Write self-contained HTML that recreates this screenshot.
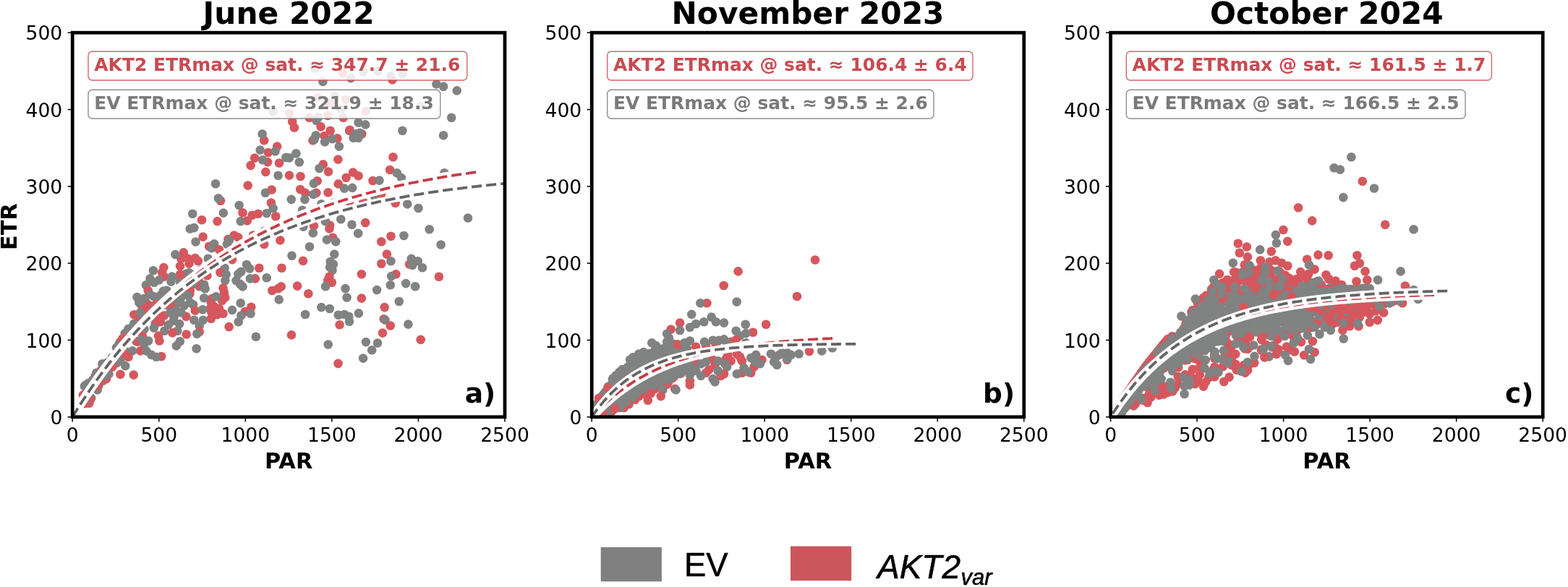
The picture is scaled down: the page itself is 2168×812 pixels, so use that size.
<!DOCTYPE html>
<html lang="en"><head><meta charset="utf-8"><title>ETR vs PAR</title>
<style>html,body{margin:0;padding:0;background:#fff}svg{display:block}.t{font-family:"DejaVu Sans","Liberation Sans",sans-serif;font-size:26.6px;fill:#000}.b{font-family:"DejaVu Sans","Liberation Sans",sans-serif;font-weight:bold;fill:#000}.l{font-family:"Liberation Sans",Arial,sans-serif;fill:#000}</style></head><body>
<svg width="2168" height="812" viewBox="0 0 2168 812">
<rect width="2168" height="812" fill="#fff"/>
<defs><circle id="pg" r="6.3" fill="#818282"/><circle id="pr" r="6.3" fill="#d6575d"/></defs>
<g id="panel-a">
<clipPath id="clipa"><rect x="100.2" y="45.2" width="597.8" height="531.6"/></clipPath>
<g clip-path="url(#clipa)">
<use href="#pg" x="168.8" y="492.6"/>
<use href="#pr" x="122.6" y="530.9"/>
<use href="#pg" x="175.8" y="487.6"/>
<use href="#pg" x="150.5" y="517.4"/>
<use href="#pg" x="126.2" y="550.4"/>
<use href="#pr" x="124.4" y="536.9"/>
<use href="#pr" x="220.1" y="424.0"/>
<use href="#pr" x="211.1" y="438.8"/>
<use href="#pg" x="122.3" y="530.0"/>
<use href="#pg" x="184.7" y="461.1"/>
<use href="#pr" x="166.2" y="473.0"/>
<use href="#pr" x="131.8" y="526.1"/>
<use href="#pr" x="176.9" y="469.6"/>
<use href="#pg" x="209.0" y="433.3"/>
<use href="#pg" x="228.4" y="421.7"/>
<use href="#pg" x="192.5" y="439.7"/>
<use href="#pg" x="164.7" y="475.5"/>
<use href="#pg" x="245.1" y="419.3"/>
<use href="#pg" x="202.5" y="431.1"/>
<use href="#pr" x="189.7" y="453.4"/>
<use href="#pg" x="134.3" y="527.8"/>
<use href="#pr" x="140.0" y="517.6"/>
<use href="#pg" x="275.6" y="396.2"/>
<use href="#pg" x="210.5" y="423.2"/>
<use href="#pg" x="171.5" y="482.6"/>
<use href="#pr" x="211.6" y="436.3"/>
<use href="#pg" x="272.7" y="384.8"/>
<use href="#pg" x="125.4" y="529.8"/>
<use href="#pg" x="222.9" y="407.5"/>
<use href="#pg" x="162.2" y="492.5"/>
<use href="#pg" x="172.6" y="461.1"/>
<use href="#pr" x="142.7" y="526.6"/>
<use href="#pg" x="151.1" y="509.8"/>
<use href="#pg" x="156.0" y="500.0"/>
<use href="#pg" x="128.0" y="535.6"/>
<use href="#pg" x="161.1" y="502.3"/>
<use href="#pg" x="259.2" y="401.4"/>
<use href="#pg" x="279.7" y="372.7"/>
<use href="#pr" x="274.9" y="394.2"/>
<use href="#pr" x="139.9" y="512.0"/>
<use href="#pg" x="195.7" y="447.7"/>
<use href="#pg" x="161.7" y="501.2"/>
<use href="#pr" x="176.4" y="469.6"/>
<use href="#pg" x="230.1" y="417.2"/>
<use href="#pg" x="224.2" y="414.9"/>
<use href="#pg" x="265.1" y="379.9"/>
<use href="#pg" x="248.1" y="406.3"/>
<use href="#pg" x="180.5" y="467.8"/>
<use href="#pr" x="125.0" y="553.1"/>
<use href="#pg" x="188.3" y="471.9"/>
<use href="#pr" x="123.3" y="557.7"/>
<use href="#pg" x="204.4" y="426.7"/>
<use href="#pg" x="118.8" y="534.8"/>
<use href="#pg" x="177.5" y="465.9"/>
<use href="#pr" x="215.4" y="432.1"/>
<use href="#pg" x="256.6" y="379.1"/>
<use href="#pr" x="195.0" y="457.9"/>
<use href="#pg" x="131.7" y="534.1"/>
<use href="#pg" x="194.7" y="445.3"/>
<use href="#pg" x="118.4" y="532.8"/>
<use href="#pr" x="175.1" y="466.8"/>
<use href="#pg" x="241.4" y="414.9"/>
<use href="#pg" x="259.1" y="387.3"/>
<use href="#pg" x="201.3" y="431.1"/>
<use href="#pg" x="243.8" y="405.0"/>
<use href="#pr" x="169.7" y="489.0"/>
<use href="#pg" x="249.5" y="390.7"/>
<use href="#pg" x="249.0" y="412.1"/>
<use href="#pr" x="174.1" y="490.5"/>
<use href="#pr" x="246.8" y="404.6"/>
<use href="#pg" x="230.5" y="401.9"/>
<use href="#pg" x="249.9" y="393.6"/>
<use href="#pr" x="274.4" y="387.2"/>
<use href="#pg" x="131.6" y="529.8"/>
<use href="#pg" x="148.8" y="501.3"/>
<use href="#pg" x="255.2" y="397.6"/>
<use href="#pg" x="172.1" y="471.8"/>
<use href="#pg" x="134.6" y="528.4"/>
<use href="#pr" x="240.1" y="409.9"/>
<use href="#pr" x="187.2" y="455.2"/>
<use href="#pg" x="248.6" y="386.2"/>
<use href="#pr" x="192.1" y="446.3"/>
<use href="#pr" x="235.9" y="424.0"/>
<use href="#pg" x="119.2" y="543.9"/>
<use href="#pg" x="249.5" y="413.5"/>
<use href="#pg" x="278.6" y="374.3"/>
<use href="#pr" x="140.6" y="514.7"/>
<use href="#pg" x="116.9" y="534.3"/>
<use href="#pr" x="131.7" y="520.1"/>
<use href="#pr" x="187.2" y="447.2"/>
<use href="#pg" x="119.2" y="556.6"/>
<use href="#pg" x="154.8" y="494.8"/>
<use href="#pr" x="205.7" y="429.3"/>
<use href="#pg" x="266.9" y="393.1"/>
<use href="#pg" x="225.4" y="411.2"/>
<use href="#pg" x="185.0" y="448.0"/>
<use href="#pg" x="136.4" y="533.9"/>
<use href="#pr" x="117.7" y="551.2"/>
<use href="#pr" x="216.4" y="420.9"/>
<use href="#pg" x="143.4" y="513.5"/>
<use href="#pg" x="134.7" y="539.4"/>
<use href="#pr" x="201.3" y="443.1"/>
<use href="#pr" x="262.4" y="406.5"/>
<use href="#pg" x="160.9" y="480.9"/>
<use href="#pr" x="190.2" y="472.6"/>
<use href="#pg" x="188.7" y="454.3"/>
<use href="#pg" x="216.0" y="440.9"/>
<use href="#pg" x="190.3" y="455.4"/>
<use href="#pg" x="199.5" y="455.4"/>
<use href="#pg" x="261.3" y="377.2"/>
<use href="#pg" x="435.3" y="94.9"/>
<use href="#pr" x="474.0" y="101.1"/>
<use href="#pg" x="485.1" y="108.1"/>
<use href="#pg" x="502.4" y="99.8"/>
<use href="#pg" x="522.5" y="98.4"/>
<use href="#pg" x="540.5" y="105.3"/>
<use href="#pr" x="542.5" y="110.4"/>
<use href="#pg" x="556.4" y="101.8"/>
<use href="#pg" x="446.4" y="112.9"/>
<use href="#pg" x="603.4" y="116.4"/>
<use href="#pg" x="613.1" y="119.8"/>
<use href="#pg" x="631.8" y="125.4"/>
<use href="#pg" x="624.2" y="162.7"/>
<use href="#pr" x="439.4" y="135.0"/>
<use href="#pg" x="463.0" y="133.0"/>
<use href="#pr" x="478.2" y="137.8"/>
<use href="#pr" x="455.4" y="142.6"/>
<use href="#pg" x="471.3" y="151.0"/>
<use href="#pr" x="505.9" y="153.7"/>
<use href="#pg" x="581.3" y="147.5"/>
<use href="#pr" x="400.0" y="156.5"/>
<use href="#pr" x="427.7" y="162.7"/>
<use href="#pg" x="440.1" y="162.0"/>
<use href="#pr" x="453.3" y="159.9"/>
<use href="#pr" x="474.7" y="162.7"/>
<use href="#pr" x="404.2" y="168.2"/>
<use href="#pr" x="406.9" y="176.5"/>
<use href="#pg" x="437.4" y="166.9"/>
<use href="#pr" x="443.6" y="175.2"/>
<use href="#pr" x="456.7" y="180.7"/>
<use href="#pg" x="495.5" y="169.6"/>
<use href="#pg" x="505.2" y="172.4"/>
<use href="#pg" x="483.0" y="180.7"/>
<use href="#pg" x="556.4" y="180.7"/>
<use href="#pr" x="448.4" y="188.0"/>
<use href="#pr" x="466.4" y="191.4"/>
<use href="#pr" x="432.5" y="194.2"/>
<use href="#pg" x="436.7" y="187.3"/>
<use href="#pg" x="434.6" y="192.8"/>
<use href="#pg" x="449.1" y="196.3"/>
<use href="#pg" x="459.5" y="192.1"/>
<use href="#pg" x="468.9" y="202.5"/>
<use href="#pr" x="483.7" y="179.7"/>
<use href="#pr" x="500.3" y="185.2"/>
<use href="#pg" x="491.3" y="185.2"/>
<use href="#pg" x="497.6" y="183.8"/>
<use href="#pg" x="488.6" y="190.8"/>
<use href="#pg" x="495.5" y="190.8"/>
<use href="#pg" x="613.1" y="187.3"/>
<use href="#pg" x="409.4" y="212.2"/>
<use href="#pg" x="413.8" y="224.2"/>
<use href="#pg" x="400.0" y="218.4"/>
<use href="#pr" x="467.4" y="220.5"/>
<use href="#pr" x="543.5" y="217.3"/>
<use href="#pr" x="446.8" y="227.4"/>
<use href="#pg" x="441.5" y="233.0"/>
<use href="#pr" x="454.0" y="237.5"/>
<use href="#pr" x="415.5" y="244.0"/>
<use href="#pr" x="400.0" y="242.6"/>
<use href="#pr" x="539.1" y="235.0"/>
<use href="#pg" x="548.8" y="239.2"/>
<use href="#pg" x="555.0" y="246.1"/>
<use href="#pr" x="488.1" y="238.5"/>
<use href="#pr" x="495.5" y="243.3"/>
<use href="#pr" x="478.6" y="245.8"/>
<use href="#pr" x="515.5" y="250.0"/>
<use href="#pg" x="524.5" y="249.6"/>
<use href="#pg" x="614.5" y="239.2"/>
<use href="#pr" x="438.7" y="250.3"/>
<use href="#pg" x="433.9" y="253.7"/>
<use href="#pr" x="467.8" y="254.4"/>
<use href="#pg" x="476.1" y="260.6"/>
<use href="#pg" x="487.2" y="259.9"/>
<use href="#pr" x="415.2" y="262.0"/>
<use href="#pr" x="453.6" y="266.2"/>
<use href="#pr" x="422.1" y="266.9"/>
<use href="#pr" x="437.4" y="266.9"/>
<use href="#pg" x="433.2" y="268.9"/>
<use href="#pg" x="402.8" y="275.9"/>
<use href="#pg" x="421.4" y="275.9"/>
<use href="#pg" x="444.3" y="282.4"/>
<use href="#pr" x="460.9" y="280.7"/>
<use href="#pr" x="483.0" y="279.3"/>
<use href="#pr" x="502.4" y="279.3"/>
<use href="#pg" x="517.6" y="271.0"/>
<use href="#pr" x="527.3" y="268.2"/>
<use href="#pr" x="546.7" y="280.7"/>
<use href="#pg" x="563.3" y="282.4"/>
<use href="#pg" x="578.5" y="288.0"/>
<use href="#pg" x="418.0" y="290.8"/>
<use href="#pg" x="471.3" y="303.2"/>
<use href="#pr" x="433.9" y="312.2"/>
<use href="#pr" x="456.0" y="311.5"/>
<use href="#pr" x="455.4" y="316.4"/>
<use href="#pg" x="449.8" y="306.0"/>
<use href="#pg" x="419.4" y="313.6"/>
<use href="#pg" x="486.5" y="310.8"/>
<use href="#pr" x="505.2" y="308.1"/>
<use href="#pg" x="495.2" y="322.9"/>
<use href="#pg" x="432.8" y="322.3"/>
<use href="#pr" x="460.2" y="328.8"/>
<use href="#pg" x="451.9" y="331.6"/>
<use href="#pg" x="464.3" y="334.3"/>
<use href="#pg" x="428.0" y="341.3"/>
<use href="#pg" x="647.0" y="301.5"/>
<use href="#pg" x="593.7" y="317.3"/>
<use href="#pg" x="558.4" y="326.0"/>
<use href="#pg" x="609.6" y="338.5"/>
<use href="#pr" x="540.5" y="326.7"/>
<use href="#pr" x="527.3" y="334.3"/>
<use href="#pr" x="534.9" y="351.6"/>
<use href="#pr" x="527.3" y="364.8"/>
<use href="#pg" x="540.5" y="361.3"/>
<use href="#pg" x="462.3" y="351.6"/>
<use href="#pg" x="403.5" y="353.7"/>
<use href="#pr" x="419.0" y="360.9"/>
<use href="#pg" x="456.7" y="362.0"/>
<use href="#pg" x="460.9" y="365.5"/>
<use href="#pg" x="456.0" y="369.6"/>
<use href="#pg" x="459.5" y="373.8"/>
<use href="#pr" x="566.1" y="365.5"/>
<use href="#pg" x="568.8" y="357.9"/>
<use href="#pg" x="577.8" y="361.3"/>
<use href="#pg" x="570.2" y="366.9"/>
<use href="#pg" x="584.0" y="370.3"/>
<use href="#pr" x="499.9" y="379.3"/>
<use href="#pr" x="547.4" y="379.3"/>
<use href="#pg" x="541.1" y="382.1"/>
<use href="#pr" x="606.9" y="382.8"/>
<use href="#pr" x="455.4" y="382.8"/>
<use href="#pr" x="453.3" y="388.0"/>
<use href="#pr" x="458.8" y="390.8"/>
<use href="#pg" x="450.1" y="396.3"/>
<use href="#pr" x="411.1" y="395.6"/>
<use href="#pr" x="426.3" y="406.3"/>
<use href="#pg" x="477.5" y="399.1"/>
<use href="#pg" x="479.6" y="411.5"/>
<use href="#pr" x="499.9" y="412.6"/>
<use href="#pg" x="521.1" y="401.1"/>
<use href="#pg" x="539.8" y="394.2"/>
<use href="#pg" x="561.2" y="392.1"/>
<use href="#pg" x="574.1" y="396.3"/>
<use href="#pg" x="551.8" y="417.0"/>
<use href="#pr" x="531.7" y="425.1"/>
<use href="#pg" x="444.3" y="425.1"/>
<use href="#pg" x="455.8" y="427.0"/>
<use href="#pg" x="422.1" y="435.0"/>
<use href="#pg" x="467.8" y="435.7"/>
<use href="#pg" x="476.1" y="435.0"/>
<use href="#pg" x="482.3" y="437.8"/>
<use href="#pg" x="483.0" y="444.7"/>
<use href="#pg" x="495.9" y="433.4"/>
<use href="#pr" x="469.6" y="449.2"/>
<use href="#pr" x="530.8" y="441.3"/>
<use href="#pg" x="532.6" y="442.6"/>
<use href="#pr" x="539.8" y="450.5"/>
<use href="#pg" x="564.4" y="448.6"/>
<use href="#pr" x="529.0" y="460.6"/>
<use href="#pr" x="403.0" y="463.4"/>
<use href="#pr" x="581.7" y="469.9"/>
<use href="#pg" x="453.7" y="476.5"/>
<use href="#pg" x="505.9" y="473.1"/>
<use href="#pg" x="522.0" y="474.5"/>
<use href="#pg" x="514.2" y="484.2"/>
<use href="#pg" x="502.1" y="495.6"/>
<use href="#pr" x="467.5" y="502.9"/>
<use href="#pg" x="377.7" y="154.2"/>
<use href="#pr" x="365.2" y="194.3"/>
<use href="#pg" x="362.7" y="185.4"/>
<use href="#pr" x="383.2" y="202.6"/>
<use href="#pr" x="370.8" y="211.0"/>
<use href="#pg" x="359.7" y="207.5"/>
<use href="#pg" x="380.5" y="209.2"/>
<use href="#pr" x="352.1" y="218.6"/>
<use href="#pr" x="370.1" y="224.1"/>
<use href="#pg" x="363.2" y="221.3"/>
<use href="#pr" x="346.6" y="228.9"/>
<use href="#pr" x="386.0" y="225.5"/>
<use href="#pg" x="395.4" y="217.9"/>
<use href="#pr" x="367.3" y="237.9"/>
<use href="#pg" x="384.6" y="242.8"/>
<use href="#pg" x="298.1" y="254.2"/>
<use href="#pr" x="342.7" y="256.6"/>
<use href="#pr" x="375.6" y="262.5"/>
<use href="#pg" x="366.9" y="266.7"/>
<use href="#pr" x="305.0" y="277.7"/>
<use href="#pg" x="301.9" y="274.3"/>
<use href="#pg" x="330.6" y="284.0"/>
<use href="#pr" x="374.9" y="280.5"/>
<use href="#pr" x="381.2" y="299.2"/>
<use href="#pg" x="377.7" y="288.1"/>
<use href="#pg" x="368.7" y="295.0"/>
<use href="#pr" x="335.5" y="294.3"/>
<use href="#pr" x="348.6" y="297.8"/>
<use href="#pr" x="356.9" y="295.7"/>
<use href="#pr" x="341.7" y="305.4"/>
<use href="#pg" x="332.7" y="306.1"/>
<use href="#pg" x="266.3" y="295.7"/>
<use href="#pg" x="308.8" y="294.6"/>
<use href="#pr" x="279.0" y="304.3"/>
<use href="#pr" x="300.5" y="306.1"/>
<use href="#pg" x="262.8" y="316.5"/>
<use href="#pg" x="268.4" y="315.1"/>
<use href="#pr" x="280.6" y="327.6"/>
<use href="#pg" x="270.5" y="334.5"/>
<use href="#pr" x="323.7" y="325.5"/>
<use href="#pr" x="329.3" y="328.2"/>
<use href="#pr" x="315.4" y="331.0"/>
<use href="#pg" x="316.8" y="332.4"/>
<use href="#pg" x="314.0" y="337.9"/>
<use href="#pr" x="289.1" y="340.7"/>
<use href="#pg" x="296.1" y="337.2"/>
<use href="#pr" x="350.0" y="325.5"/>
<use href="#pg" x="365.2" y="319.9"/>
<use href="#pr" x="387.4" y="332.4"/>
<use href="#pr" x="365.2" y="337.9"/>
<use href="#pg" x="292.6" y="343.1"/>
<use href="#pr" x="303.0" y="345.2"/>
<use href="#pr" x="389.5" y="370.8"/>
<use href="#pr" x="253.8" y="349.4"/>
<use href="#pr" x="250.4" y="357.7"/>
<use href="#pr" x="260.1" y="357.7"/>
<use href="#pr" x="269.8" y="357.0"/>
<use href="#pr" x="273.9" y="361.1"/>
<use href="#pr" x="261.5" y="364.6"/>
<use href="#pr" x="249.0" y="368.1"/>
<use href="#pg" x="242.4" y="352.1"/>
<use href="#pr" x="321.0" y="359.1"/>
<use href="#pg" x="287.7" y="357.7"/>
<use href="#pr" x="358.3" y="370.8"/>
<use href="#pg" x="341.0" y="366.0"/>
<use href="#pg" x="310.6" y="370.8"/>
<use href="#pg" x="345.2" y="371.5"/>
<use href="#pr" x="304.4" y="377.0"/>
<use href="#pg" x="333.4" y="375.7"/>
<use href="#pg" x="329.3" y="379.1"/>
<use href="#pg" x="312.7" y="379.8"/>
<use href="#pg" x="368.7" y="384.2"/>
<use href="#pr" x="352.8" y="385.4"/>
<use href="#pg" x="345.9" y="385.4"/>
<use href="#pg" x="311.3" y="388.1"/>
<use href="#pg" x="326.5" y="388.1"/>
<use href="#pg" x="332.0" y="393.0"/>
<use href="#pg" x="335.5" y="396.4"/>
<use href="#pr" x="226.4" y="370.1"/>
<use href="#pr" x="224.1" y="377.0"/>
<use href="#pr" x="226.9" y="382.6"/>
<use href="#pr" x="249.0" y="379.8"/>
<use href="#pg" x="211.9" y="374.3"/>
<use href="#pg" x="207.5" y="385.4"/>
<use href="#pg" x="219.9" y="387.4"/>
<use href="#pg" x="202.0" y="394.3"/>
<use href="#pg" x="213.0" y="390.9"/>
<use href="#pg" x="237.9" y="382.6"/>
<use href="#pg" x="236.5" y="389.5"/>
<use href="#pr" x="286.4" y="381.2"/>
<use href="#pg" x="282.2" y="393.7"/>
<use href="#pg" x="283.6" y="399.2"/>
<use href="#pr" x="262.8" y="402.0"/>
<use href="#pr" x="308.5" y="398.5"/>
<use href="#pr" x="309.9" y="404.7"/>
<use href="#pr" x="311.3" y="411.6"/>
<use href="#pr" x="307.1" y="415.8"/>
<use href="#pr" x="376.3" y="402.0"/>
<use href="#pr" x="388.8" y="396.4"/>
<use href="#pr" x="384.6" y="399.2"/>
<use href="#pg" x="385.7" y="414.4"/>
<use href="#pr" x="204.7" y="402.0"/>
<use href="#pr" x="203.3" y="419.9"/>
<use href="#pr" x="196.4" y="424.1"/>
<use href="#pg" x="225.8" y="402.6"/>
<use href="#pg" x="207.5" y="407.5"/>
<use href="#pg" x="213.0" y="410.3"/>
<use href="#pg" x="189.5" y="411.0"/>
<use href="#pg" x="192.3" y="418.6"/>
<use href="#pg" x="199.2" y="413.0"/>
<use href="#pr" x="293.3" y="413.0"/>
<use href="#pr" x="291.9" y="418.6"/>
<use href="#pg" x="260.1" y="408.9"/>
<use href="#pg" x="282.2" y="412.3"/>
<use href="#pg" x="298.8" y="410.3"/>
<use href="#pg" x="262.8" y="418.6"/>
<use href="#pg" x="254.5" y="422.7"/>
<use href="#pg" x="267.0" y="421.3"/>
<use href="#pr" x="296.1" y="424.1"/>
<use href="#pr" x="303.0" y="426.9"/>
<use href="#pr" x="290.5" y="426.9"/>
<use href="#pr" x="308.5" y="433.8"/>
<use href="#pr" x="300.2" y="435.2"/>
<use href="#pr" x="269.8" y="429.6"/>
<use href="#pg" x="280.1" y="428.2"/>
<use href="#pr" x="347.3" y="424.8"/>
<use href="#pr" x="338.9" y="431.0"/>
<use href="#pg" x="332.7" y="419.3"/>
<use href="#pg" x="321.0" y="428.9"/>
<use href="#pg" x="346.6" y="433.8"/>
<use href="#pg" x="333.4" y="436.5"/>
<use href="#pr" x="185.4" y="435.2"/>
<use href="#pg" x="193.7" y="432.4"/>
<use href="#pr" x="226.9" y="436.5"/>
<use href="#pr" x="257.3" y="437.9"/>
<use href="#pr" x="221.3" y="440.7"/>
<use href="#pg" x="235.2" y="432.4"/>
<use href="#pg" x="243.5" y="429.6"/>
<use href="#pg" x="250.4" y="432.4"/>
<use href="#pg" x="240.7" y="437.9"/>
<use href="#pr" x="291.9" y="440.7"/>
<use href="#pg" x="268.4" y="442.8"/>
<use href="#pg" x="280.8" y="442.8"/>
<use href="#pg" x="177.5" y="454.9"/>
<use href="#pr" x="221.8" y="445.2"/>
<use href="#pr" x="214.9" y="448.0"/>
<use href="#pg" x="212.8" y="453.5"/>
<use href="#pg" x="239.8" y="443.8"/>
<use href="#pg" x="248.1" y="448.0"/>
<use href="#pg" x="232.8" y="449.4"/>
<use href="#pg" x="227.3" y="457.7"/>
<use href="#pg" x="245.3" y="457.7"/>
<use href="#pr" x="292.3" y="431.4"/>
<use href="#pg" x="275.7" y="450.8"/>
<use href="#pg" x="329.7" y="445.2"/>
<use href="#pr" x="316.6" y="452.1"/>
<use href="#pr" x="257.7" y="462.5"/>
<use href="#pr" x="275.7" y="459.1"/>
<use href="#pg" x="272.3" y="461.8"/>
<use href="#pr" x="238.4" y="460.4"/>
<use href="#pr" x="219.0" y="464.6"/>
<use href="#pr" x="220.4" y="471.5"/>
<use href="#pg" x="248.8" y="472.2"/>
<use href="#pg" x="243.9" y="478.4"/>
<use href="#pg" x="271.6" y="482.2"/>
<use href="#pg" x="353.9" y="465.7"/>
<use href="#pr" x="169.2" y="468.7"/>
<use href="#pr" x="196.9" y="464.6"/>
<use href="#pg" x="195.5" y="470.1"/>
<use href="#pg" x="205.2" y="471.5"/>
<use href="#pg" x="199.6" y="475.7"/>
<use href="#pr" x="194.1" y="485.4"/>
<use href="#pg" x="183.0" y="485.4"/>
<use href="#pr" x="223.2" y="493.0"/>
<use href="#pg" x="202.4" y="485.4"/>
<use href="#pg" x="209.3" y="490.9"/>
<use href="#pg" x="216.2" y="493.7"/>
<use href="#pr" x="177.5" y="493.7"/>
<use href="#pg" x="166.4" y="499.2"/>
<use href="#pg" x="173.3" y="506.1"/>
<use href="#pg" x="141.5" y="503.3"/>
<use href="#pg" x="133.2" y="515.8"/>
<use href="#pr" x="166.4" y="517.9"/>
<use href="#pr" x="184.8" y="518.6"/>
<use href="#pr" x="147.0" y="524.1"/>
<use href="#pg" x="145.7" y="519.9"/>
<use href="#pr" x="134.6" y="533.8"/>
<use href="#pr" x="155.4" y="507.5"/>
<use href="#pg" x="128.1" y="525.7"/>
<use href="#pr" x="114.9" y="546.4"/>
<use href="#pr" x="117.0" y="558.2"/>
<path d="M100.2,576.8 L103.69,571.11 L107.17,565.52 L110.66,560.0 L114.15,554.58 L117.63,549.23 L121.12,543.97 L124.61,538.79 L128.09,533.69 L131.58,528.67 L135.07,523.72 L138.55,518.85 L142.04,514.06 L145.53,509.34 L149.01,504.69 L152.5,500.11 L155.99,495.61 L159.47,491.17 L162.96,486.8 L166.45,482.5 L169.93,478.26 L173.42,474.09 L176.91,469.99 L180.39,465.94 L183.88,461.96 L187.37,458.04 L190.85,454.18 L194.34,450.38 L197.83,446.64 L201.31,442.96 L204.8,439.33 L208.29,435.76 L211.77,432.24 L215.26,428.78 L218.75,425.37 L222.23,422.02 L225.72,418.71 L229.21,415.46 L232.69,412.25 L236.18,409.1 L239.67,405.99 L243.15,402.93 L246.64,399.92 L250.13,396.96 L253.61,394.04 L257.1,391.16 L260.59,388.33 L264.07,385.54 L267.56,382.8 L271.05,380.1 L274.53,377.44 L278.02,374.82 L281.51,372.24 L284.99,369.7 L288.48,367.2 L291.97,364.74 L295.45,362.31 L298.94,359.93 L302.43,357.58 L305.91,355.26 L309.4,352.98 L312.89,350.74 L316.37,348.53 L319.86,346.36 L323.35,344.21 L326.83,342.11 L330.32,340.03 L333.81,337.99 L337.29,335.97 L340.78,333.99 L344.27,332.04 L347.75,330.12 L351.24,328.23 L354.73,326.36 L358.21,324.53 L361.7,322.73 L365.19,320.95 L368.67,319.2 L372.16,317.47 L375.65,315.78 L379.13,314.1 L382.62,312.46 L386.11,310.84 L389.59,309.24 L393.08,307.67 L396.57,306.13 L400.05,304.6 L403.54,303.1 L407.03,301.63 L410.51,300.18 L414.0,298.74 L417.49,297.33 L420.97,295.95 L424.46,294.58 L427.95,293.24 L431.43,291.91 L434.92,290.61 L438.41,289.32 L441.89,288.06 L445.38,286.81 L448.87,285.59 L452.35,284.38 L455.84,283.19 L459.33,282.02 L462.81,280.87 L466.3,279.74 L469.79,278.62 L473.27,277.52 L476.76,276.44 L480.25,275.37 L483.73,274.32 L487.22,273.29 L490.71,272.27 L494.19,271.27 L497.68,270.28 L501.17,269.31 L504.65,268.36 L508.14,267.41 L511.63,266.49 L515.11,265.57 L518.6,264.67 L522.09,263.79 L525.57,262.92 L529.06,262.06 L532.55,261.21 L536.03,260.38 L539.52,259.56 L543.01,258.76 L546.49,257.96 L549.98,257.18 L553.47,256.41 L556.95,255.65 L560.44,254.91 L563.93,254.17 L567.41,253.45 L570.9,252.74 L574.39,252.03 L577.87,251.34 L581.36,250.66 L584.85,249.99 L588.33,249.33 L591.82,248.69 L595.31,248.05 L598.79,247.42 L602.28,246.8 L605.77,246.19 L609.25,245.59 L612.74,244.99 L616.23,244.41 L619.71,243.84 L623.2,243.27 L626.69,242.72 L630.17,242.17 L633.66,241.63 L637.15,241.1 L640.63,240.58 L644.12,240.06 L647.61,239.56 L651.09,239.06 L654.58,238.57 L658.07,238.08" fill="none" stroke="#fff" stroke-width="12.5" stroke-linecap="butt"/>
<path d="M100.2,576.8 L103.69,571.11 L107.17,565.52 L110.66,560.0 L114.15,554.58 L117.63,549.23 L121.12,543.97 L124.61,538.79 L128.09,533.69 L131.58,528.67 L135.07,523.72 L138.55,518.85 L142.04,514.06 L145.53,509.34 L149.01,504.69 L152.5,500.11 L155.99,495.61 L159.47,491.17 L162.96,486.8 L166.45,482.5 L169.93,478.26 L173.42,474.09 L176.91,469.99 L180.39,465.94 L183.88,461.96 L187.37,458.04 L190.85,454.18 L194.34,450.38 L197.83,446.64 L201.31,442.96 L204.8,439.33 L208.29,435.76 L211.77,432.24 L215.26,428.78 L218.75,425.37 L222.23,422.02 L225.72,418.71 L229.21,415.46 L232.69,412.25 L236.18,409.1 L239.67,405.99 L243.15,402.93 L246.64,399.92 L250.13,396.96 L253.61,394.04 L257.1,391.16 L260.59,388.33 L264.07,385.54 L267.56,382.8 L271.05,380.1 L274.53,377.44 L278.02,374.82 L281.51,372.24 L284.99,369.7 L288.48,367.2 L291.97,364.74 L295.45,362.31 L298.94,359.93 L302.43,357.58 L305.91,355.26 L309.4,352.98 L312.89,350.74 L316.37,348.53 L319.86,346.36 L323.35,344.21 L326.83,342.11 L330.32,340.03 L333.81,337.99 L337.29,335.97 L340.78,333.99 L344.27,332.04 L347.75,330.12 L351.24,328.23 L354.73,326.36 L358.21,324.53 L361.7,322.73 L365.19,320.95 L368.67,319.2 L372.16,317.47 L375.65,315.78 L379.13,314.1 L382.62,312.46 L386.11,310.84 L389.59,309.24 L393.08,307.67 L396.57,306.13 L400.05,304.6 L403.54,303.1 L407.03,301.63 L410.51,300.18 L414.0,298.74 L417.49,297.33 L420.97,295.95 L424.46,294.58 L427.95,293.24 L431.43,291.91 L434.92,290.61 L438.41,289.32 L441.89,288.06 L445.38,286.81 L448.87,285.59 L452.35,284.38 L455.84,283.19 L459.33,282.02 L462.81,280.87 L466.3,279.74 L469.79,278.62 L473.27,277.52 L476.76,276.44 L480.25,275.37 L483.73,274.32 L487.22,273.29 L490.71,272.27 L494.19,271.27 L497.68,270.28 L501.17,269.31 L504.65,268.36 L508.14,267.41 L511.63,266.49 L515.11,265.57 L518.6,264.67 L522.09,263.79 L525.57,262.92 L529.06,262.06 L532.55,261.21 L536.03,260.38 L539.52,259.56 L543.01,258.76 L546.49,257.96 L549.98,257.18 L553.47,256.41 L556.95,255.65 L560.44,254.91 L563.93,254.17 L567.41,253.45 L570.9,252.74 L574.39,252.03 L577.87,251.34 L581.36,250.66 L584.85,249.99 L588.33,249.33 L591.82,248.69 L595.31,248.05 L598.79,247.42 L602.28,246.8 L605.77,246.19 L609.25,245.59 L612.74,244.99 L616.23,244.41 L619.71,243.84 L623.2,243.27 L626.69,242.72 L630.17,242.17 L633.66,241.63 L637.15,241.1 L640.63,240.58 L644.12,240.06 L647.61,239.56 L651.09,239.06 L654.58,238.57 L658.07,238.08" fill="none" stroke="#c63c47" stroke-width="3.8" stroke-dasharray="14.06 6.08" stroke-dashoffset="19.64"/>
<path d="M100.2,576.8 L103.94,570.71 L107.67,564.72 L111.41,558.84 L115.15,553.06 L118.88,547.39 L122.62,541.82 L126.35,536.35 L130.09,530.97 L133.83,525.7 L137.56,520.51 L141.3,515.42 L145.03,510.42 L148.77,505.5 L152.51,500.68 L156.24,495.94 L159.98,491.29 L163.72,486.71 L167.45,482.22 L171.19,477.81 L174.93,473.48 L178.66,469.23 L182.4,465.05 L186.13,460.94 L189.87,456.91 L193.61,452.95 L197.34,449.06 L201.08,445.24 L204.81,441.49 L208.55,437.8 L212.29,434.19 L216.02,430.63 L219.76,427.14 L223.5,423.71 L227.23,420.34 L230.97,417.03 L234.7,413.78 L238.44,410.59 L242.18,407.46 L245.91,404.38 L249.65,401.35 L253.39,398.38 L257.12,395.46 L260.86,392.6 L264.59,389.78 L268.33,387.02 L272.07,384.31 L275.8,381.64 L279.54,379.02 L283.28,376.45 L287.01,373.92 L290.75,371.44 L294.48,369.0 L298.22,366.61 L301.96,364.25 L305.69,361.94 L309.43,359.68 L313.17,357.45 L316.9,355.26 L320.64,353.11 L324.38,351.0 L328.11,348.92 L331.85,346.89 L335.58,344.89 L339.32,342.92 L343.06,340.99 L346.79,339.1 L350.53,337.24 L354.26,335.41 L358.0,333.61 L361.74,331.85 L365.47,330.11 L369.21,328.41 L372.95,326.74 L376.68,325.1 L380.42,323.49 L384.15,321.9 L387.89,320.35 L391.63,318.82 L395.36,317.32 L399.1,315.85 L402.84,314.4 L406.57,312.98 L410.31,311.58 L414.04,310.21 L417.78,308.86 L421.52,307.54 L425.25,306.24 L428.99,304.96 L432.73,303.71 L436.46,302.48 L440.2,301.27 L443.93,300.08 L447.67,298.91 L451.41,297.77 L455.14,296.64 L458.88,295.53 L462.62,294.45 L466.35,293.38 L470.09,292.33 L473.82,291.31 L477.56,290.29 L481.3,289.3 L485.03,288.33 L488.77,287.37 L492.51,286.43 L496.24,285.51 L499.98,284.6 L503.71,283.71 L507.45,282.83 L511.19,281.97 L514.92,281.13 L518.66,280.3 L522.4,279.48 L526.13,278.68 L529.87,277.9 L533.61,277.13 L537.34,276.37 L541.08,275.62 L544.81,274.89 L548.55,274.17 L552.29,273.47 L556.02,272.78 L559.76,272.09 L563.5,271.43 L567.23,270.77 L570.97,270.12 L574.7,269.49 L578.44,268.87 L582.18,268.26 L585.91,267.66 L589.65,267.07 L593.38,266.49 L597.12,265.92 L600.86,265.36 L604.59,264.81 L608.33,264.27 L612.07,263.75 L615.8,263.23 L619.54,262.71 L623.28,262.21 L627.01,261.72 L630.75,261.24 L634.48,260.76 L638.22,260.3 L641.96,259.84 L645.69,259.39 L649.43,258.94 L653.17,258.51 L656.9,258.08 L660.64,257.66 L664.37,257.25 L668.11,256.85 L671.85,256.45 L675.58,256.06 L679.32,255.68 L683.06,255.3 L686.79,254.93 L690.53,254.57 L694.26,254.21 L698.0,253.86" fill="none" stroke="#fff" stroke-width="10.2" stroke-linecap="butt"/>
<path d="M100.2,576.8 L103.94,570.71 L107.67,564.72 L111.41,558.84 L115.15,553.06 L118.88,547.39 L122.62,541.82 L126.35,536.35 L130.09,530.97 L133.83,525.7 L137.56,520.51 L141.3,515.42 L145.03,510.42 L148.77,505.5 L152.51,500.68 L156.24,495.94 L159.98,491.29 L163.72,486.71 L167.45,482.22 L171.19,477.81 L174.93,473.48 L178.66,469.23 L182.4,465.05 L186.13,460.94 L189.87,456.91 L193.61,452.95 L197.34,449.06 L201.08,445.24 L204.81,441.49 L208.55,437.8 L212.29,434.19 L216.02,430.63 L219.76,427.14 L223.5,423.71 L227.23,420.34 L230.97,417.03 L234.7,413.78 L238.44,410.59 L242.18,407.46 L245.91,404.38 L249.65,401.35 L253.39,398.38 L257.12,395.46 L260.86,392.6 L264.59,389.78 L268.33,387.02 L272.07,384.31 L275.8,381.64 L279.54,379.02 L283.28,376.45 L287.01,373.92 L290.75,371.44 L294.48,369.0 L298.22,366.61 L301.96,364.25 L305.69,361.94 L309.43,359.68 L313.17,357.45 L316.9,355.26 L320.64,353.11 L324.38,351.0 L328.11,348.92 L331.85,346.89 L335.58,344.89 L339.32,342.92 L343.06,340.99 L346.79,339.1 L350.53,337.24 L354.26,335.41 L358.0,333.61 L361.74,331.85 L365.47,330.11 L369.21,328.41 L372.95,326.74 L376.68,325.1 L380.42,323.49 L384.15,321.9 L387.89,320.35 L391.63,318.82 L395.36,317.32 L399.1,315.85 L402.84,314.4 L406.57,312.98 L410.31,311.58 L414.04,310.21 L417.78,308.86 L421.52,307.54 L425.25,306.24 L428.99,304.96 L432.73,303.71 L436.46,302.48 L440.2,301.27 L443.93,300.08 L447.67,298.91 L451.41,297.77 L455.14,296.64 L458.88,295.53 L462.62,294.45 L466.35,293.38 L470.09,292.33 L473.82,291.31 L477.56,290.29 L481.3,289.3 L485.03,288.33 L488.77,287.37 L492.51,286.43 L496.24,285.51 L499.98,284.6 L503.71,283.71 L507.45,282.83 L511.19,281.97 L514.92,281.13 L518.66,280.3 L522.4,279.48 L526.13,278.68 L529.87,277.9 L533.61,277.13 L537.34,276.37 L541.08,275.62 L544.81,274.89 L548.55,274.17 L552.29,273.47 L556.02,272.78 L559.76,272.09 L563.5,271.43 L567.23,270.77 L570.97,270.12 L574.7,269.49 L578.44,268.87 L582.18,268.26 L585.91,267.66 L589.65,267.07 L593.38,266.49 L597.12,265.92 L600.86,265.36 L604.59,264.81 L608.33,264.27 L612.07,263.75 L615.8,263.23 L619.54,262.71 L623.28,262.21 L627.01,261.72 L630.75,261.24 L634.48,260.76 L638.22,260.3 L641.96,259.84 L645.69,259.39 L649.43,258.94 L653.17,258.51 L656.9,258.08 L660.64,257.66 L664.37,257.25 L668.11,256.85 L671.85,256.45 L675.58,256.06 L679.32,255.68 L683.06,255.3 L686.79,254.93 L690.53,254.57 L694.26,254.21 L698.0,253.86" fill="none" stroke="#646464" stroke-width="3.8" stroke-dasharray="14.06 6.08" stroke-dashoffset="0"/>
</g>
<rect x="122.0" y="71.2" width="523.8" height="39.8" rx="5.5" ry="5.5" fill="#fff" fill-opacity="0.85" stroke="#c84b52" stroke-opacity="0.85" stroke-width="1.4"/>
<text class="b" x="130.3" y="98.1" font-size="24.95" style="fill:#c84b52">AKT2 ETRmax @ sat. ≈ 347.7 ± 21.6</text>
<rect x="122.0" y="124.3" width="486.8" height="39.7" rx="5.5" ry="5.5" fill="#fff" fill-opacity="0.85" stroke="#7a7a7a" stroke-opacity="0.85" stroke-width="1.4"/>
<text class="b" x="130.3" y="151.2" font-size="24.95" style="fill:#7a7a7a">EV ETRmax @ sat. ≈ 321.9 ± 18.3</text>
<rect x="100.2" y="45.2" width="597.8" height="531.6" fill="none" stroke="#000" stroke-width="4.75"/>
<line x1="100.20" x2="100.20" y1="576.8" y2="583.45" stroke="#000" stroke-width="1.5"/>
<text class="t" x="100.20" y="611.4" text-anchor="middle">0</text>
<line x1="219.76" x2="219.76" y1="576.8" y2="583.45" stroke="#000" stroke-width="1.5"/>
<text class="t" x="219.76" y="611.4" text-anchor="middle">500</text>
<line x1="339.32" x2="339.32" y1="576.8" y2="583.45" stroke="#000" stroke-width="1.5"/>
<text class="t" x="339.32" y="611.4" text-anchor="middle">1000</text>
<line x1="458.88" x2="458.88" y1="576.8" y2="583.45" stroke="#000" stroke-width="1.5"/>
<text class="t" x="458.88" y="611.4" text-anchor="middle">1500</text>
<line x1="578.44" x2="578.44" y1="576.8" y2="583.45" stroke="#000" stroke-width="1.5"/>
<text class="t" x="578.44" y="611.4" text-anchor="middle">2000</text>
<line x1="698.00" x2="698.00" y1="576.8" y2="583.45" stroke="#000" stroke-width="1.5"/>
<text class="t" x="698.00" y="611.4" text-anchor="middle">2500</text>
<line x1="93.55" x2="100.2" y1="576.80" y2="576.80" stroke="#000" stroke-width="1.5"/>
<text class="t" x="86.3" y="586.9" text-anchor="end">0</text>
<line x1="93.55" x2="100.2" y1="470.48" y2="470.48" stroke="#000" stroke-width="1.5"/>
<text class="t" x="86.3" y="480.6" text-anchor="end">100</text>
<line x1="93.55" x2="100.2" y1="364.16" y2="364.16" stroke="#000" stroke-width="1.5"/>
<text class="t" x="86.3" y="374.3" text-anchor="end">200</text>
<line x1="93.55" x2="100.2" y1="257.84" y2="257.84" stroke="#000" stroke-width="1.5"/>
<text class="t" x="86.3" y="267.9" text-anchor="end">300</text>
<line x1="93.55" x2="100.2" y1="151.52" y2="151.52" stroke="#000" stroke-width="1.5"/>
<text class="t" x="86.3" y="161.6" text-anchor="end">400</text>
<line x1="93.55" x2="100.2" y1="45.20" y2="45.20" stroke="#000" stroke-width="1.5"/>
<text class="t" x="86.3" y="55.3" text-anchor="end">500</text>
<text class="b" x="399.1" y="33.1" font-size="42.3" text-anchor="middle">June 2022</text>
<text class="b" x="399.1" y="648.3" font-size="30.4" text-anchor="middle">PAR</text>
<text class="b" transform="translate(22.8 313.5) rotate(-90)" font-size="30.4" text-anchor="middle">ETR</text>
<text class="b" x="685.3" y="557.1" font-size="37.6" text-anchor="end">a)</text>
</g>
<g id="panel-b">
<clipPath id="clipb"><rect x="818.2" y="45.2" width="597.6" height="531.6"/></clipPath>
<g clip-path="url(#clipb)">
<use href="#pr" x="832.9" y="588.6"/>
<use href="#pr" x="835.9" y="583.6"/>
<use href="#pr" x="843.3" y="578.8"/>
<use href="#pr" x="857.6" y="563.0"/>
<use href="#pr" x="862.8" y="564.0"/>
<use href="#pr" x="861.6" y="557.6"/>
<use href="#pr" x="864.7" y="556.1"/>
<use href="#pr" x="878.2" y="552.7"/>
<use href="#pr" x="883.3" y="548.3"/>
<use href="#pr" x="886.1" y="544.7"/>
<use href="#pr" x="893.2" y="545.9"/>
<use href="#pr" x="893.1" y="540.2"/>
<use href="#pr" x="905.7" y="537.9"/>
<use href="#pr" x="913.1" y="536.0"/>
<use href="#pr" x="922.6" y="531.6"/>
<use href="#pr" x="924.4" y="527.8"/>
<use href="#pr" x="929.8" y="523.0"/>
<use href="#pr" x="830.1" y="587.1"/>
<use href="#pr" x="842.6" y="570.9"/>
<use href="#pr" x="846.1" y="568.9"/>
<use href="#pr" x="852.7" y="561.7"/>
<use href="#pr" x="867.0" y="553.2"/>
<use href="#pr" x="867.7" y="551.1"/>
<use href="#pr" x="873.6" y="547.2"/>
<use href="#pr" x="875.3" y="545.6"/>
<use href="#pr" x="879.7" y="543.4"/>
<use href="#pr" x="891.0" y="538.3"/>
<use href="#pr" x="896.0" y="538.0"/>
<use href="#pr" x="900.6" y="535.5"/>
<use href="#pr" x="914.0" y="526.7"/>
<use href="#pr" x="922.9" y="523.0"/>
<use href="#pr" x="926.8" y="523.4"/>
<use href="#pr" x="927.1" y="518.9"/>
<use href="#pr" x="932.0" y="520.7"/>
<use href="#pr" x="942.3" y="515.7"/>
<use href="#pg" x="828.4" y="580.0"/>
<use href="#pg" x="836.3" y="579.2"/>
<use href="#pg" x="839.0" y="569.6"/>
<use href="#pg" x="845.0" y="564.8"/>
<use href="#pg" x="851.5" y="561.7"/>
<use href="#pg" x="857.0" y="564.0"/>
<use href="#pg" x="859.4" y="558.9"/>
<use href="#pg" x="874.1" y="551.0"/>
<use href="#pg" x="880.4" y="544.8"/>
<use href="#pg" x="885.8" y="539.2"/>
<use href="#pg" x="894.7" y="538.2"/>
<use href="#pg" x="898.0" y="537.2"/>
<use href="#pg" x="901.3" y="535.1"/>
<use href="#pg" x="903.8" y="532.5"/>
<use href="#pg" x="908.8" y="529.6"/>
<use href="#pg" x="912.9" y="527.7"/>
<use href="#pg" x="923.7" y="525.8"/>
<use href="#pg" x="924.2" y="523.3"/>
<use href="#pg" x="928.7" y="522.3"/>
<use href="#pg" x="934.7" y="517.8"/>
<use href="#pg" x="940.2" y="517.0"/>
<use href="#pg" x="823.4" y="586.4"/>
<use href="#pg" x="824.1" y="580.7"/>
<use href="#pg" x="828.1" y="577.0"/>
<use href="#pg" x="833.1" y="574.9"/>
<use href="#pg" x="835.0" y="572.8"/>
<use href="#pg" x="838.8" y="570.3"/>
<use href="#pg" x="843.9" y="565.7"/>
<use href="#pg" x="845.1" y="561.8"/>
<use href="#pg" x="850.6" y="561.7"/>
<use href="#pg" x="854.6" y="556.7"/>
<use href="#pg" x="856.1" y="553.9"/>
<use href="#pg" x="859.6" y="552.6"/>
<use href="#pg" x="862.8" y="550.9"/>
<use href="#pg" x="867.0" y="545.3"/>
<use href="#pg" x="872.4" y="542.6"/>
<use href="#pg" x="875.0" y="541.3"/>
<use href="#pg" x="876.6" y="538.2"/>
<use href="#pg" x="880.5" y="538.7"/>
<use href="#pg" x="884.8" y="533.3"/>
<use href="#pg" x="890.0" y="533.5"/>
<use href="#pg" x="895.4" y="532.7"/>
<use href="#pg" x="896.9" y="528.7"/>
<use href="#pg" x="900.2" y="526.7"/>
<use href="#pg" x="904.9" y="523.9"/>
<use href="#pg" x="911.1" y="523.0"/>
<use href="#pg" x="915.4" y="520.7"/>
<use href="#pg" x="920.1" y="517.8"/>
<use href="#pg" x="923.6" y="516.2"/>
<use href="#pg" x="927.4" y="517.7"/>
<use href="#pg" x="931.3" y="516.0"/>
<use href="#pg" x="937.1" y="512.8"/>
<use href="#pg" x="938.4" y="512.4"/>
<use href="#pg" x="944.4" y="511.0"/>
<use href="#pg" x="949.7" y="510.7"/>
<use href="#pg" x="820.7" y="583.1"/>
<use href="#pg" x="824.9" y="580.0"/>
<use href="#pg" x="825.5" y="575.6"/>
<use href="#pg" x="830.8" y="572.6"/>
<use href="#pg" x="834.1" y="568.2"/>
<use href="#pg" x="835.5" y="565.9"/>
<use href="#pg" x="838.7" y="562.4"/>
<use href="#pg" x="843.8" y="561.5"/>
<use href="#pg" x="847.9" y="557.5"/>
<use href="#pg" x="848.8" y="553.9"/>
<use href="#pg" x="852.9" y="552.6"/>
<use href="#pg" x="857.2" y="550.3"/>
<use href="#pg" x="860.1" y="546.2"/>
<use href="#pg" x="865.6" y="543.1"/>
<use href="#pg" x="869.5" y="541.5"/>
<use href="#pg" x="870.9" y="539.0"/>
<use href="#pg" x="875.9" y="535.1"/>
<use href="#pg" x="879.4" y="533.9"/>
<use href="#pg" x="883.4" y="531.8"/>
<use href="#pg" x="885.8" y="529.7"/>
<use href="#pg" x="892.4" y="528.7"/>
<use href="#pg" x="894.9" y="524.2"/>
<use href="#pg" x="900.0" y="524.5"/>
<use href="#pg" x="902.5" y="520.4"/>
<use href="#pg" x="908.4" y="518.3"/>
<use href="#pg" x="909.7" y="516.6"/>
<use href="#pg" x="915.9" y="515.2"/>
<use href="#pg" x="919.8" y="512.8"/>
<use href="#pg" x="922.5" y="512.4"/>
<use href="#pg" x="926.9" y="510.8"/>
<use href="#pg" x="931.6" y="508.9"/>
<use href="#pg" x="935.2" y="506.8"/>
<use href="#pg" x="940.9" y="506.3"/>
<use href="#pg" x="945.1" y="505.9"/>
<use href="#pg" x="949.8" y="504.4"/>
<use href="#pg" x="952.8" y="501.6"/>
<use href="#pg" x="956.8" y="502.4"/>
<use href="#pg" x="871.0" y="497.6"/>
<use href="#pg" x="875.5" y="494.3"/>
<use href="#pg" x="880.3" y="496.1"/>
<use href="#pg" x="889.7" y="487.1"/>
<use href="#pg" x="899.0" y="488.8"/>
<use href="#pg" x="906.3" y="482.3"/>
<use href="#pg" x="907.1" y="478.1"/>
<use href="#pr" x="853.0" y="521.1"/>
<use href="#pr" x="861.1" y="511.8"/>
<use href="#pg" x="847.0" y="525.0"/>
<use href="#pg" x="847.7" y="523.3"/>
<use href="#pg" x="851.9" y="519.0"/>
<use href="#pg" x="856.4" y="514.8"/>
<use href="#pg" x="860.4" y="511.1"/>
<use href="#pg" x="865.3" y="511.8"/>
<use href="#pg" x="868.1" y="507.6"/>
<use href="#pg" x="871.1" y="508.0"/>
<use href="#pg" x="873.6" y="505.1"/>
<use href="#pg" x="880.0" y="502.3"/>
<use href="#pg" x="884.4" y="500.3"/>
<use href="#pg" x="887.7" y="497.5"/>
<use href="#pg" x="891.4" y="491.9"/>
<use href="#pg" x="894.1" y="489.6"/>
<use href="#pg" x="899.0" y="490.8"/>
<use href="#pg" x="904.7" y="489.2"/>
<use href="#pg" x="907.4" y="486.9"/>
<use href="#pg" x="910.2" y="487.4"/>
<use href="#pg" x="916.0" y="484.7"/>
<use href="#pg" x="916.8" y="482.4"/>
<use href="#pg" x="922.2" y="480.0"/>
<use href="#pg" x="931.4" y="475.9"/>
<use href="#pg" x="829.4" y="551.9"/>
<use href="#pg" x="832.4" y="548.5"/>
<use href="#pg" x="834.0" y="546.0"/>
<use href="#pg" x="836.7" y="542.4"/>
<use href="#pg" x="841.1" y="536.7"/>
<use href="#pg" x="841.1" y="534.8"/>
<use href="#pg" x="843.8" y="533.4"/>
<use href="#pg" x="848.9" y="528.9"/>
<use href="#pg" x="851.2" y="526.1"/>
<use href="#pg" x="854.5" y="523.4"/>
<use href="#pg" x="856.9" y="518.7"/>
<use href="#pg" x="861.0" y="517.9"/>
<use href="#pg" x="867.5" y="515.2"/>
<use href="#pg" x="871.5" y="513.4"/>
<use href="#pg" x="874.9" y="508.8"/>
<use href="#pg" x="878.9" y="505.7"/>
<use href="#pg" x="882.6" y="505.2"/>
<use href="#pg" x="886.6" y="503.4"/>
<use href="#pg" x="887.1" y="500.5"/>
<use href="#pg" x="891.4" y="496.1"/>
<use href="#pg" x="895.1" y="495.7"/>
<use href="#pg" x="900.5" y="493.1"/>
<use href="#pg" x="904.5" y="493.4"/>
<use href="#pg" x="911.0" y="492.4"/>
<use href="#pg" x="912.1" y="487.5"/>
<use href="#pg" x="918.5" y="488.0"/>
<use href="#pg" x="920.7" y="486.8"/>
<use href="#pg" x="926.3" y="485.2"/>
<use href="#pg" x="929.0" y="482.4"/>
<use href="#pg" x="936.2" y="483.7"/>
<use href="#pg" x="937.1" y="480.1"/>
<use href="#pg" x="821.0" y="564.2"/>
<use href="#pg" x="821.9" y="560.5"/>
<use href="#pg" x="826.0" y="558.5"/>
<use href="#pg" x="828.6" y="553.7"/>
<use href="#pg" x="832.2" y="552.2"/>
<use href="#pg" x="833.2" y="548.6"/>
<use href="#pg" x="838.1" y="543.5"/>
<use href="#pg" x="839.5" y="542.0"/>
<use href="#pg" x="843.8" y="539.3"/>
<use href="#pg" x="846.7" y="535.4"/>
<use href="#pg" x="849.5" y="531.2"/>
<use href="#pg" x="854.2" y="527.3"/>
<use href="#pg" x="856.6" y="525.6"/>
<use href="#pg" x="859.3" y="523.7"/>
<use href="#pg" x="862.6" y="520.6"/>
<use href="#pg" x="866.4" y="518.1"/>
<use href="#pg" x="870.0" y="513.8"/>
<use href="#pg" x="875.1" y="511.9"/>
<use href="#pg" x="878.8" y="510.2"/>
<use href="#pg" x="883.3" y="508.9"/>
<use href="#pg" x="886.8" y="504.9"/>
<use href="#pg" x="889.5" y="504.6"/>
<use href="#pg" x="893.1" y="500.9"/>
<use href="#pg" x="897.5" y="499.1"/>
<use href="#pg" x="901.1" y="497.7"/>
<use href="#pg" x="906.2" y="496.8"/>
<use href="#pg" x="909.3" y="494.9"/>
<use href="#pg" x="913.8" y="491.1"/>
<use href="#pg" x="918.8" y="491.2"/>
<use href="#pg" x="923.4" y="490.5"/>
<use href="#pg" x="927.4" y="489.1"/>
<use href="#pg" x="930.3" y="487.7"/>
<use href="#pg" x="934.6" y="486.2"/>
<use href="#pg" x="941.0" y="485.1"/>
<use href="#pg" x="943.8" y="484.4"/>
<use href="#pg" x="949.8" y="482.3"/>
<use href="#pr" x="1020.6" y="375.4"/>
<use href="#pr" x="1000.7" y="395.0"/>
<use href="#pr" x="1102.0" y="410.0"/>
<use href="#pr" x="1127.0" y="359.5"/>
<use href="#pr" x="977.4" y="419.3"/>
<use href="#pg" x="968.4" y="419.3"/>
<use href="#pg" x="1018.7" y="417.5"/>
<use href="#pg" x="956.3" y="434.9"/>
<use href="#pg" x="983.7" y="438.6"/>
<use href="#pr" x="940.1" y="446.6"/>
<use href="#pr" x="927.6" y="455.6"/>
<use href="#pg" x="973.3" y="445.2"/>
<use href="#pg" x="989.9" y="445.2"/>
<use href="#pg" x="1001.0" y="446.6"/>
<use href="#pg" x="962.2" y="448.0"/>
<use href="#pg" x="953.9" y="452.8"/>
<use href="#pg" x="940.1" y="457.0"/>
<use href="#pg" x="922.1" y="461.8"/>
<use href="#pg" x="924.9" y="467.4"/>
<use href="#pg" x="922.1" y="472.9"/>
<use href="#pr" x="1059.1" y="448.7"/>
<use href="#pr" x="1041.1" y="459.8"/>
<use href="#pg" x="1030.7" y="448.7"/>
<use href="#pg" x="1017.6" y="457.7"/>
<use href="#pg" x="1031.4" y="461.1"/>
<use href="#pg" x="1023.1" y="464.6"/>
<use href="#pr" x="937.3" y="476.4"/>
<use href="#pr" x="962.2" y="479.8"/>
<use href="#pr" x="976.1" y="478.4"/>
<use href="#pr" x="989.9" y="477.7"/>
<use href="#pr" x="1010.6" y="472.9"/>
<use href="#pr" x="1017.6" y="470.1"/>
<use href="#pg" x="946.3" y="474.3"/>
<use href="#pg" x="953.9" y="471.5"/>
<use href="#pg" x="974.0" y="472.9"/>
<use href="#pg" x="985.7" y="470.8"/>
<use href="#pg" x="994.0" y="470.8"/>
<use href="#pg" x="1001.0" y="469.4"/>
<use href="#pg" x="1005.1" y="474.3"/>
<use href="#pg" x="1031.4" y="474.3"/>
<use href="#pg" x="901.3" y="474.3"/>
<use href="#pg" x="883.3" y="489.5"/>
<use href="#pr" x="840.4" y="536.5"/>
<use href="#pr" x="962.2" y="502.0"/>
<use href="#pr" x="984.4" y="496.4"/>
<use href="#pr" x="1006.5" y="490.9"/>
<use href="#pr" x="1003.7" y="496.4"/>
<use href="#pr" x="1010.6" y="499.2"/>
<use href="#pr" x="988.5" y="504.7"/>
<use href="#pr" x="1018.9" y="489.5"/>
<use href="#pr" x="1023.1" y="493.7"/>
<use href="#pr" x="1025.9" y="499.2"/>
<use href="#pg" x="969.1" y="503.3"/>
<use href="#pg" x="976.1" y="500.6"/>
<use href="#pg" x="955.3" y="507.5"/>
<use href="#pg" x="992.7" y="499.2"/>
<use href="#pg" x="1002.3" y="503.3"/>
<use href="#pg" x="1005.1" y="507.5"/>
<use href="#pr" x="1053.5" y="497.8"/>
<use href="#pr" x="1042.5" y="507.5"/>
<use href="#pr" x="1038.3" y="515.8"/>
<use href="#pr" x="1025.9" y="515.8"/>
<use href="#pg" x="1038.3" y="495.0"/>
<use href="#pg" x="1045.2" y="490.9"/>
<use href="#pg" x="1050.8" y="503.3"/>
<use href="#pg" x="1043.9" y="500.6"/>
<use href="#pg" x="1028.6" y="508.9"/>
<use href="#pg" x="1034.2" y="514.4"/>
<use href="#pg" x="1018.9" y="517.2"/>
<use href="#pr" x="1088.1" y="497.8"/>
<use href="#pg" x="1066.0" y="489.5"/>
<use href="#pg" x="1072.9" y="493.7"/>
<use href="#pg" x="1081.2" y="488.1"/>
<use href="#pg" x="1070.1" y="500.6"/>
<use href="#pg" x="1074.3" y="504.7"/>
<use href="#pg" x="1093.7" y="490.9"/>
<use href="#pg" x="1104.7" y="489.5"/>
<use href="#pr" x="980.2" y="511.6"/>
<use href="#pr" x="976.1" y="515.8"/>
<use href="#pr" x="1001.0" y="517.2"/>
<use href="#pr" x="996.8" y="519.9"/>
<use href="#pg" x="992.7" y="513.0"/>
<use href="#pr" x="953.9" y="526.9"/>
<use href="#pr" x="953.9" y="532.4"/>
<use href="#pg" x="953.9" y="518.6"/>
<use href="#pg" x="962.2" y="513.0"/>
<use href="#pg" x="969.1" y="519.9"/>
<use href="#pg" x="985.7" y="524.1"/>
<use href="#pg" x="988.5" y="528.2"/>
<use href="#pr" x="933.2" y="537.9"/>
<use href="#pg" x="916.5" y="539.3"/>
<use href="#pg" x="934.5" y="539.3"/>
<use href="#pr" x="899.9" y="544.0"/>
<use href="#pr" x="895.8" y="553.7"/>
<use href="#pr" x="913.8" y="548.1"/>
<use href="#pr" x="869.5" y="559.2"/>
<use href="#pr" x="850.1" y="565.4"/>
<use href="#pr" x="833.5" y="571.6"/>
<use href="#pg" x="865.4" y="556.4"/>
<use href="#pg" x="919.3" y="524.6"/>
<use href="#pr" x="828.0" y="550.9"/>
<use href="#pr" x="1119.0" y="486.0"/>
<use href="#pg" x="1136.3" y="485.4"/>
<use href="#pg" x="1150.8" y="481.2"/>
<use href="#pg" x="1077.5" y="490.9"/>
<use href="#pg" x="1088.6" y="488.1"/>
<use href="#pg" x="1088.6" y="496.4"/>
<path d="M818.2,576.8 L820.28,574.54 L822.36,572.32 L824.44,570.15 L826.52,568.02 L828.61,565.93 L830.69,563.89 L832.77,561.88 L834.85,559.92 L836.93,558.0 L839.01,556.11 L841.09,554.26 L843.17,552.45 L845.25,550.68 L847.34,548.94 L849.42,547.23 L851.5,545.56 L853.58,543.92 L855.66,542.32 L857.74,540.75 L859.82,539.2 L861.9,537.69 L863.99,536.21 L866.07,534.76 L868.15,533.34 L870.23,531.95 L872.31,530.58 L874.39,529.25 L876.47,527.94 L878.55,526.65 L880.63,525.39 L882.72,524.16 L884.8,522.95 L886.88,521.76 L888.96,520.6 L891.04,519.46 L893.12,518.35 L895.2,517.25 L897.28,516.18 L899.36,515.13 L901.45,514.1 L903.53,513.1 L905.61,512.11 L907.69,511.14 L909.77,510.19 L911.85,509.26 L913.93,508.35 L916.01,507.45 L918.09,506.58 L920.18,505.72 L922.26,504.88 L924.34,504.06 L926.42,503.25 L928.5,502.46 L930.58,501.68 L932.66,500.92 L934.74,500.18 L936.83,499.45 L938.91,498.73 L940.99,498.03 L943.07,497.34 L945.15,496.67 L947.23,496.01 L949.31,495.36 L951.39,494.73 L953.47,494.11 L955.56,493.5 L957.64,492.91 L959.72,492.32 L961.8,491.75 L963.88,491.19 L965.96,490.64 L968.04,490.1 L970.12,489.57 L972.2,489.05 L974.29,488.54 L976.37,488.05 L978.45,487.56 L980.53,487.08 L982.61,486.61 L984.69,486.16 L986.77,485.71 L988.85,485.27 L990.93,484.83 L993.02,484.41 L995.1,484.0 L997.18,483.59 L999.26,483.19 L1001.34,482.8 L1003.42,482.42 L1005.5,482.04 L1007.58,481.68 L1009.67,481.32 L1011.75,480.96 L1013.83,480.62 L1015.91,480.28 L1017.99,479.95 L1020.07,479.62 L1022.15,479.3 L1024.23,478.99 L1026.31,478.68 L1028.4,478.38 L1030.48,478.09 L1032.56,477.8 L1034.64,477.52 L1036.72,477.24 L1038.8,476.97 L1040.88,476.71 L1042.96,476.44 L1045.04,476.19 L1047.13,475.94 L1049.21,475.69 L1051.29,475.45 L1053.37,475.22 L1055.45,474.99 L1057.53,474.76 L1059.61,474.54 L1061.69,474.32 L1063.77,474.11 L1065.86,473.9 L1067.94,473.7 L1070.02,473.5 L1072.1,473.3 L1074.18,473.11 L1076.26,472.92 L1078.34,472.73 L1080.42,472.55 L1082.51,472.38 L1084.59,472.2 L1086.67,472.03 L1088.75,471.86 L1090.83,471.7 L1092.91,471.54 L1094.99,471.38 L1097.07,471.23 L1099.15,471.08 L1101.24,470.93 L1103.32,470.78 L1105.4,470.64 L1107.48,470.5 L1109.56,470.37 L1111.64,470.23 L1113.72,470.1 L1115.8,469.97 L1117.88,469.85 L1119.97,469.72 L1122.05,469.6 L1124.13,469.48 L1126.21,469.37 L1128.29,469.25 L1130.37,469.14 L1132.45,469.03 L1134.53,468.93 L1136.61,468.82 L1138.7,468.72 L1140.78,468.62 L1142.86,468.52 L1144.94,468.42 L1147.02,468.33 L1149.1,468.23 L1151.18,468.14" fill="none" stroke="#fff" stroke-width="12.5" stroke-linecap="butt"/>
<path d="M818.2,576.8 L820.28,574.54 L822.36,572.32 L824.44,570.15 L826.52,568.02 L828.61,565.93 L830.69,563.89 L832.77,561.88 L834.85,559.92 L836.93,558.0 L839.01,556.11 L841.09,554.26 L843.17,552.45 L845.25,550.68 L847.34,548.94 L849.42,547.23 L851.5,545.56 L853.58,543.92 L855.66,542.32 L857.74,540.75 L859.82,539.2 L861.9,537.69 L863.99,536.21 L866.07,534.76 L868.15,533.34 L870.23,531.95 L872.31,530.58 L874.39,529.25 L876.47,527.94 L878.55,526.65 L880.63,525.39 L882.72,524.16 L884.8,522.95 L886.88,521.76 L888.96,520.6 L891.04,519.46 L893.12,518.35 L895.2,517.25 L897.28,516.18 L899.36,515.13 L901.45,514.1 L903.53,513.1 L905.61,512.11 L907.69,511.14 L909.77,510.19 L911.85,509.26 L913.93,508.35 L916.01,507.45 L918.09,506.58 L920.18,505.72 L922.26,504.88 L924.34,504.06 L926.42,503.25 L928.5,502.46 L930.58,501.68 L932.66,500.92 L934.74,500.18 L936.83,499.45 L938.91,498.73 L940.99,498.03 L943.07,497.34 L945.15,496.67 L947.23,496.01 L949.31,495.36 L951.39,494.73 L953.47,494.11 L955.56,493.5 L957.64,492.91 L959.72,492.32 L961.8,491.75 L963.88,491.19 L965.96,490.64 L968.04,490.1 L970.12,489.57 L972.2,489.05 L974.29,488.54 L976.37,488.05 L978.45,487.56 L980.53,487.08 L982.61,486.61 L984.69,486.16 L986.77,485.71 L988.85,485.27 L990.93,484.83 L993.02,484.41 L995.1,484.0 L997.18,483.59 L999.26,483.19 L1001.34,482.8 L1003.42,482.42 L1005.5,482.04 L1007.58,481.68 L1009.67,481.32 L1011.75,480.96 L1013.83,480.62 L1015.91,480.28 L1017.99,479.95 L1020.07,479.62 L1022.15,479.3 L1024.23,478.99 L1026.31,478.68 L1028.4,478.38 L1030.48,478.09 L1032.56,477.8 L1034.64,477.52 L1036.72,477.24 L1038.8,476.97 L1040.88,476.71 L1042.96,476.44 L1045.04,476.19 L1047.13,475.94 L1049.21,475.69 L1051.29,475.45 L1053.37,475.22 L1055.45,474.99 L1057.53,474.76 L1059.61,474.54 L1061.69,474.32 L1063.77,474.11 L1065.86,473.9 L1067.94,473.7 L1070.02,473.5 L1072.1,473.3 L1074.18,473.11 L1076.26,472.92 L1078.34,472.73 L1080.42,472.55 L1082.51,472.38 L1084.59,472.2 L1086.67,472.03 L1088.75,471.86 L1090.83,471.7 L1092.91,471.54 L1094.99,471.38 L1097.07,471.23 L1099.15,471.08 L1101.24,470.93 L1103.32,470.78 L1105.4,470.64 L1107.48,470.5 L1109.56,470.37 L1111.64,470.23 L1113.72,470.1 L1115.8,469.97 L1117.88,469.85 L1119.97,469.72 L1122.05,469.6 L1124.13,469.48 L1126.21,469.37 L1128.29,469.25 L1130.37,469.14 L1132.45,469.03 L1134.53,468.93 L1136.61,468.82 L1138.7,468.72 L1140.78,468.62 L1142.86,468.52 L1144.94,468.42 L1147.02,468.33 L1149.1,468.23 L1151.18,468.14" fill="none" stroke="#c63c47" stroke-width="3.8" stroke-dasharray="14.06 6.08" stroke-dashoffset="16.04"/>
<path d="M818.2,576.8 L820.48,573.51 L822.76,570.32 L825.04,567.24 L827.33,564.26 L829.61,561.37 L831.89,558.58 L834.17,555.88 L836.45,553.26 L838.73,550.73 L841.01,548.29 L843.29,545.92 L845.58,543.63 L847.86,541.41 L850.14,539.27 L852.42,537.19 L854.7,535.18 L856.98,533.24 L859.26,531.36 L861.55,529.54 L863.83,527.78 L866.11,526.08 L868.39,524.43 L870.67,522.84 L872.95,521.29 L875.23,519.8 L877.51,518.36 L879.8,516.96 L882.08,515.61 L884.36,514.3 L886.64,513.03 L888.92,511.81 L891.2,510.62 L893.48,509.48 L895.77,508.37 L898.05,507.29 L900.33,506.26 L902.61,505.25 L904.89,504.28 L907.17,503.34 L909.45,502.43 L911.73,501.55 L914.02,500.69 L916.3,499.87 L918.58,499.07 L920.86,498.3 L923.14,497.55 L925.42,496.83 L927.7,496.13 L929.99,495.45 L932.27,494.8 L934.55,494.17 L936.83,493.55 L939.11,492.96 L941.39,492.39 L943.67,491.83 L945.95,491.29 L948.24,490.77 L950.52,490.27 L952.8,489.78 L955.08,489.31 L957.36,488.86 L959.64,488.42 L961.92,487.99 L964.21,487.58 L966.49,487.18 L968.77,486.79 L971.05,486.42 L973.33,486.06 L975.61,485.71 L977.89,485.37 L980.17,485.04 L982.46,484.72 L984.74,484.42 L987.02,484.12 L989.3,483.83 L991.58,483.56 L993.86,483.29 L996.14,483.03 L998.43,482.77 L1000.71,482.53 L1002.99,482.3 L1005.27,482.07 L1007.55,481.85 L1009.83,481.63 L1012.11,481.43 L1014.4,481.23 L1016.68,481.03 L1018.96,480.85 L1021.24,480.67 L1023.52,480.49 L1025.8,480.32 L1028.08,480.16 L1030.36,480.0 L1032.65,479.84 L1034.93,479.7 L1037.21,479.55 L1039.49,479.41 L1041.77,479.28 L1044.05,479.15 L1046.33,479.02 L1048.62,478.9 L1050.9,478.78 L1053.18,478.67 L1055.46,478.56 L1057.74,478.45 L1060.02,478.35 L1062.3,478.25 L1064.58,478.15 L1066.87,478.06 L1069.15,477.97 L1071.43,477.88 L1073.71,477.79 L1075.99,477.71 L1078.27,477.63 L1080.55,477.56 L1082.84,477.48 L1085.12,477.41 L1087.4,477.34 L1089.68,477.27 L1091.96,477.21 L1094.24,477.15 L1096.52,477.08 L1098.8,477.03 L1101.09,476.97 L1103.37,476.91 L1105.65,476.86 L1107.93,476.81 L1110.21,476.76 L1112.49,476.71 L1114.77,476.66 L1117.06,476.62 L1119.34,476.57 L1121.62,476.53 L1123.9,476.49 L1126.18,476.45 L1128.46,476.41 L1130.74,476.37 L1133.02,476.34 L1135.31,476.3 L1137.59,476.27 L1139.87,476.24 L1142.15,476.21 L1144.43,476.18 L1146.71,476.15 L1148.99,476.12 L1151.28,476.09 L1153.56,476.06 L1155.84,476.04 L1158.12,476.01 L1160.4,475.99 L1162.68,475.96 L1164.96,475.94 L1167.24,475.92 L1169.53,475.9 L1171.81,475.88 L1174.09,475.86 L1176.37,475.84 L1178.65,475.82 L1180.93,475.8 L1183.21,475.78" fill="none" stroke="#fff" stroke-width="10.2" stroke-linecap="butt"/>
<path d="M818.2,576.8 L820.48,573.51 L822.76,570.32 L825.04,567.24 L827.33,564.26 L829.61,561.37 L831.89,558.58 L834.17,555.88 L836.45,553.26 L838.73,550.73 L841.01,548.29 L843.29,545.92 L845.58,543.63 L847.86,541.41 L850.14,539.27 L852.42,537.19 L854.7,535.18 L856.98,533.24 L859.26,531.36 L861.55,529.54 L863.83,527.78 L866.11,526.08 L868.39,524.43 L870.67,522.84 L872.95,521.29 L875.23,519.8 L877.51,518.36 L879.8,516.96 L882.08,515.61 L884.36,514.3 L886.64,513.03 L888.92,511.81 L891.2,510.62 L893.48,509.48 L895.77,508.37 L898.05,507.29 L900.33,506.26 L902.61,505.25 L904.89,504.28 L907.17,503.34 L909.45,502.43 L911.73,501.55 L914.02,500.69 L916.3,499.87 L918.58,499.07 L920.86,498.3 L923.14,497.55 L925.42,496.83 L927.7,496.13 L929.99,495.45 L932.27,494.8 L934.55,494.17 L936.83,493.55 L939.11,492.96 L941.39,492.39 L943.67,491.83 L945.95,491.29 L948.24,490.77 L950.52,490.27 L952.8,489.78 L955.08,489.31 L957.36,488.86 L959.64,488.42 L961.92,487.99 L964.21,487.58 L966.49,487.18 L968.77,486.79 L971.05,486.42 L973.33,486.06 L975.61,485.71 L977.89,485.37 L980.17,485.04 L982.46,484.72 L984.74,484.42 L987.02,484.12 L989.3,483.83 L991.58,483.56 L993.86,483.29 L996.14,483.03 L998.43,482.77 L1000.71,482.53 L1002.99,482.3 L1005.27,482.07 L1007.55,481.85 L1009.83,481.63 L1012.11,481.43 L1014.4,481.23 L1016.68,481.03 L1018.96,480.85 L1021.24,480.67 L1023.52,480.49 L1025.8,480.32 L1028.08,480.16 L1030.36,480.0 L1032.65,479.84 L1034.93,479.7 L1037.21,479.55 L1039.49,479.41 L1041.77,479.28 L1044.05,479.15 L1046.33,479.02 L1048.62,478.9 L1050.9,478.78 L1053.18,478.67 L1055.46,478.56 L1057.74,478.45 L1060.02,478.35 L1062.3,478.25 L1064.58,478.15 L1066.87,478.06 L1069.15,477.97 L1071.43,477.88 L1073.71,477.79 L1075.99,477.71 L1078.27,477.63 L1080.55,477.56 L1082.84,477.48 L1085.12,477.41 L1087.4,477.34 L1089.68,477.27 L1091.96,477.21 L1094.24,477.15 L1096.52,477.08 L1098.8,477.03 L1101.09,476.97 L1103.37,476.91 L1105.65,476.86 L1107.93,476.81 L1110.21,476.76 L1112.49,476.71 L1114.77,476.66 L1117.06,476.62 L1119.34,476.57 L1121.62,476.53 L1123.9,476.49 L1126.18,476.45 L1128.46,476.41 L1130.74,476.37 L1133.02,476.34 L1135.31,476.3 L1137.59,476.27 L1139.87,476.24 L1142.15,476.21 L1144.43,476.18 L1146.71,476.15 L1148.99,476.12 L1151.28,476.09 L1153.56,476.06 L1155.84,476.04 L1158.12,476.01 L1160.4,475.99 L1162.68,475.96 L1164.96,475.94 L1167.24,475.92 L1169.53,475.9 L1171.81,475.88 L1174.09,475.86 L1176.37,475.84 L1178.65,475.82 L1180.93,475.8 L1183.21,475.78" fill="none" stroke="#646464" stroke-width="3.8" stroke-dasharray="14.06 6.08" stroke-dashoffset="0.72"/>
</g>
<rect x="839.7" y="71.2" width="505.3" height="39.8" rx="5.5" ry="5.5" fill="#fff" fill-opacity="0.85" stroke="#c84b52" stroke-opacity="0.85" stroke-width="1.4"/>
<text class="b" x="848.0" y="98.1" font-size="24.95" style="fill:#c84b52">AKT2 ETRmax @ sat. ≈ 106.4 ± 6.4</text>
<rect x="839.7" y="124.3" width="451.3" height="39.7" rx="5.5" ry="5.5" fill="#fff" fill-opacity="0.85" stroke="#7a7a7a" stroke-opacity="0.85" stroke-width="1.4"/>
<text class="b" x="848.0" y="151.2" font-size="24.95" style="fill:#7a7a7a">EV ETRmax @ sat. ≈ 95.5 ± 2.6</text>
<rect x="818.2" y="45.2" width="597.6" height="531.6" fill="none" stroke="#000" stroke-width="4.75"/>
<line x1="818.20" x2="818.20" y1="576.8" y2="583.45" stroke="#000" stroke-width="1.5"/>
<text class="t" x="818.20" y="611.4" text-anchor="middle">0</text>
<line x1="937.72" x2="937.72" y1="576.8" y2="583.45" stroke="#000" stroke-width="1.5"/>
<text class="t" x="937.72" y="611.4" text-anchor="middle">500</text>
<line x1="1057.24" x2="1057.24" y1="576.8" y2="583.45" stroke="#000" stroke-width="1.5"/>
<text class="t" x="1057.24" y="611.4" text-anchor="middle">1000</text>
<line x1="1176.76" x2="1176.76" y1="576.8" y2="583.45" stroke="#000" stroke-width="1.5"/>
<text class="t" x="1176.76" y="611.4" text-anchor="middle">1500</text>
<line x1="1296.28" x2="1296.28" y1="576.8" y2="583.45" stroke="#000" stroke-width="1.5"/>
<text class="t" x="1296.28" y="611.4" text-anchor="middle">2000</text>
<line x1="1415.80" x2="1415.80" y1="576.8" y2="583.45" stroke="#000" stroke-width="1.5"/>
<text class="t" x="1415.80" y="611.4" text-anchor="middle">2500</text>
<line x1="811.55" x2="818.2" y1="576.80" y2="576.80" stroke="#000" stroke-width="1.5"/>
<text class="t" x="804.3" y="586.9" text-anchor="end">0</text>
<line x1="811.55" x2="818.2" y1="470.48" y2="470.48" stroke="#000" stroke-width="1.5"/>
<text class="t" x="804.3" y="480.6" text-anchor="end">100</text>
<line x1="811.55" x2="818.2" y1="364.16" y2="364.16" stroke="#000" stroke-width="1.5"/>
<text class="t" x="804.3" y="374.3" text-anchor="end">200</text>
<line x1="811.55" x2="818.2" y1="257.84" y2="257.84" stroke="#000" stroke-width="1.5"/>
<text class="t" x="804.3" y="267.9" text-anchor="end">300</text>
<line x1="811.55" x2="818.2" y1="151.52" y2="151.52" stroke="#000" stroke-width="1.5"/>
<text class="t" x="804.3" y="161.6" text-anchor="end">400</text>
<line x1="811.55" x2="818.2" y1="45.20" y2="45.20" stroke="#000" stroke-width="1.5"/>
<text class="t" x="804.3" y="55.3" text-anchor="end">500</text>
<text class="b" x="1117.0" y="33.1" font-size="42.3" text-anchor="middle">November 2023</text>
<text class="b" x="1117.0" y="648.3" font-size="30.4" text-anchor="middle">PAR</text>
<text class="b" x="1403.1" y="557.1" font-size="37.6" text-anchor="end">b)</text>
</g>
<g id="panel-c">
<clipPath id="clipc"><rect x="1535.6" y="45.2" width="597.6" height="531.6"/></clipPath>
<g clip-path="url(#clipc)">
<use href="#pr" x="1541.6" y="568.2"/>
<use href="#pr" x="1543.7" y="565.1"/>
<use href="#pr" x="1545.9" y="561.9"/>
<use href="#pr" x="1548.0" y="558.8"/>
<use href="#pr" x="1550.2" y="555.7"/>
<use href="#pr" x="1552.3" y="552.6"/>
<use href="#pr" x="1554.5" y="549.5"/>
<use href="#pr" x="1556.6" y="546.4"/>
<use href="#pr" x="1558.8" y="543.3"/>
<use href="#pr" x="1560.9" y="540.2"/>
<use href="#pr" x="1563.1" y="537.1"/>
<use href="#pr" x="1565.2" y="534.0"/>
<use href="#pr" x="1567.4" y="530.8"/>
<use href="#pr" x="1569.5" y="527.7"/>
<use href="#pr" x="1571.7" y="524.6"/>
<use href="#pr" x="1573.8" y="521.5"/>
<use href="#pr" x="1576.0" y="518.4"/>
<use href="#pr" x="1578.1" y="515.3"/>
<use href="#pr" x="1580.3" y="512.2"/>
<use href="#pr" x="1582.5" y="509.1"/>
<use href="#pr" x="1584.6" y="506.2"/>
<use href="#pr" x="1586.8" y="503.5"/>
<use href="#pr" x="1588.9" y="500.8"/>
<use href="#pr" x="1591.1" y="498.2"/>
<use href="#pr" x="1593.2" y="495.5"/>
<use href="#pr" x="1595.4" y="492.8"/>
<use href="#pr" x="1597.5" y="490.1"/>
<use href="#pr" x="1599.7" y="487.4"/>
<use href="#pr" x="1601.8" y="484.8"/>
<use href="#pr" x="1604.0" y="482.1"/>
<use href="#pr" x="1606.1" y="479.4"/>
<use href="#pr" x="1608.3" y="476.8"/>
<use href="#pr" x="1610.4" y="474.2"/>
<use href="#pr" x="1612.6" y="471.6"/>
<use href="#pr" x="1614.7" y="469.0"/>
<use href="#pg" x="1542.8" y="568.5"/>
<use href="#pg" x="1544.7" y="565.9"/>
<use href="#pg" x="1546.6" y="563.2"/>
<use href="#pg" x="1548.5" y="560.6"/>
<use href="#pg" x="1550.4" y="558.0"/>
<use href="#pg" x="1552.3" y="555.3"/>
<use href="#pg" x="1554.2" y="552.7"/>
<use href="#pg" x="1556.2" y="550.0"/>
<use href="#pg" x="1558.1" y="547.4"/>
<use href="#pg" x="1560.0" y="544.8"/>
<use href="#pg" x="1561.9" y="542.1"/>
<use href="#pg" x="1563.8" y="539.5"/>
<use href="#pg" x="1565.7" y="536.9"/>
<use href="#pg" x="1567.6" y="534.2"/>
<use href="#pg" x="1569.5" y="531.6"/>
<use href="#pg" x="1571.5" y="529.0"/>
<use href="#pg" x="1573.4" y="526.3"/>
<use href="#pg" x="1575.3" y="523.7"/>
<use href="#pg" x="1577.2" y="521.0"/>
<use href="#pg" x="1579.1" y="518.4"/>
<use href="#pg" x="1581.0" y="515.8"/>
<use href="#pg" x="1582.9" y="513.1"/>
<use href="#pg" x="1584.8" y="510.8"/>
<use href="#pg" x="1586.8" y="508.5"/>
<use href="#pg" x="1588.7" y="506.2"/>
<use href="#pg" x="1590.6" y="503.9"/>
<use href="#pg" x="1592.5" y="501.6"/>
<use href="#pg" x="1594.4" y="499.3"/>
<use href="#pg" x="1596.3" y="497.0"/>
<use href="#pg" x="1598.2" y="494.7"/>
<use href="#pg" x="1600.1" y="492.4"/>
<use href="#pg" x="1602.1" y="490.1"/>
<use href="#pg" x="1604.0" y="487.8"/>
<use href="#pg" x="1605.9" y="485.5"/>
<use href="#pg" x="1607.8" y="483.2"/>
<use href="#pg" x="1609.7" y="481.0"/>
<use href="#pg" x="1611.6" y="478.8"/>
<use href="#pg" x="1613.5" y="476.6"/>
<use href="#pg" x="1615.4" y="474.4"/>
<use href="#pr" x="1679.8" y="423.5"/>
<use href="#pr" x="1738.0" y="418.1"/>
<use href="#pr" x="1611.3" y="479.9"/>
<use href="#pr" x="1680.2" y="418.5"/>
<use href="#pr" x="1785.3" y="393.1"/>
<use href="#pr" x="1662.5" y="416.3"/>
<use href="#pr" x="1725.5" y="387.2"/>
<use href="#pr" x="1639.3" y="448.5"/>
<use href="#pr" x="1690.9" y="391.2"/>
<use href="#pr" x="1717.7" y="377.7"/>
<use href="#pr" x="1757.6" y="399.1"/>
<use href="#pr" x="1775.5" y="380.6"/>
<use href="#pr" x="1799.4" y="406.1"/>
<use href="#pr" x="1676.3" y="422.7"/>
<use href="#pr" x="1741.5" y="395.0"/>
<use href="#pr" x="1703.8" y="398.3"/>
<use href="#pr" x="1735.3" y="386.2"/>
<use href="#pr" x="1820.5" y="389.5"/>
<use href="#pr" x="1749.1" y="377.7"/>
<use href="#pr" x="1841.8" y="397.3"/>
<use href="#pr" x="1756.9" y="379.6"/>
<use href="#pr" x="1732.8" y="419.4"/>
<use href="#pr" x="1791.6" y="408.2"/>
<use href="#pr" x="1775.5" y="408.0"/>
<use href="#pr" x="1689.7" y="391.7"/>
<use href="#pr" x="1630.5" y="467.4"/>
<use href="#pr" x="1758.0" y="377.4"/>
<use href="#pr" x="1855.0" y="394.0"/>
<use href="#pr" x="1691.9" y="404.5"/>
<use href="#pr" x="1623.3" y="467.3"/>
<use href="#pr" x="1738.5" y="419.1"/>
<use href="#pr" x="1794.8" y="385.8"/>
<use href="#pr" x="1805.5" y="398.4"/>
<use href="#pr" x="1724.4" y="391.7"/>
<use href="#pr" x="1730.2" y="372.1"/>
<use href="#pr" x="1722.3" y="385.3"/>
<use href="#pr" x="1679.6" y="394.8"/>
<use href="#pr" x="1724.3" y="424.6"/>
<use href="#pr" x="1708.9" y="428.9"/>
<use href="#pr" x="1739.9" y="417.9"/>
<use href="#pr" x="1741.7" y="386.3"/>
<use href="#pr" x="1699.3" y="392.2"/>
<use href="#pr" x="1617.4" y="469.7"/>
<use href="#pr" x="1840.2" y="398.7"/>
<use href="#pr" x="1735.7" y="402.9"/>
<use href="#pr" x="1692.2" y="404.5"/>
<use href="#pr" x="1690.3" y="396.5"/>
<use href="#pr" x="1620.8" y="465.3"/>
<use href="#pr" x="1692.1" y="393.6"/>
<use href="#pr" x="1680.4" y="420.0"/>
<use href="#pr" x="1753.9" y="402.8"/>
<use href="#pr" x="1696.5" y="410.4"/>
<use href="#pr" x="1790.8" y="401.7"/>
<use href="#pr" x="1746.0" y="397.5"/>
<use href="#pr" x="1677.5" y="417.6"/>
<use href="#pr" x="1671.3" y="408.7"/>
<use href="#pr" x="1669.9" y="411.3"/>
<use href="#pr" x="1744.9" y="402.7"/>
<use href="#pr" x="1657.3" y="424.2"/>
<use href="#pr" x="1685.4" y="417.8"/>
<use href="#pr" x="1708.7" y="377.8"/>
<use href="#pr" x="1663.8" y="412.0"/>
<use href="#pr" x="1800.3" y="399.0"/>
<use href="#pr" x="1832.2" y="401.9"/>
<use href="#pr" x="1763.3" y="387.3"/>
<use href="#pr" x="1724.1" y="406.1"/>
<use href="#pr" x="1677.4" y="414.9"/>
<use href="#pr" x="1688.8" y="435.1"/>
<use href="#pr" x="1808.7" y="388.8"/>
<use href="#pr" x="1806.0" y="395.9"/>
<use href="#pr" x="1611.3" y="480.8"/>
<use href="#pr" x="1690.6" y="409.3"/>
<use href="#pr" x="1708.3" y="395.4"/>
<use href="#pr" x="1696.9" y="387.0"/>
<use href="#pr" x="1717.8" y="407.3"/>
<use href="#pr" x="1673.0" y="408.2"/>
<use href="#pr" x="1667.5" y="408.9"/>
<use href="#pr" x="1776.9" y="412.7"/>
<use href="#pr" x="1742.1" y="417.9"/>
<use href="#pr" x="1685.3" y="412.3"/>
<use href="#pr" x="1709.7" y="385.7"/>
<use href="#pr" x="1593.2" y="497.9"/>
<use href="#pr" x="1656.1" y="419.2"/>
<use href="#pr" x="1790.7" y="397.3"/>
<use href="#pr" x="1693.1" y="417.0"/>
<use href="#pr" x="1744.7" y="402.0"/>
<use href="#pr" x="1670.9" y="439.9"/>
<use href="#pr" x="1730.3" y="402.7"/>
<use href="#pr" x="1643.6" y="449.9"/>
<use href="#pr" x="1738.1" y="401.8"/>
<use href="#pr" x="1775.7" y="398.2"/>
<use href="#pr" x="1702.0" y="392.4"/>
<use href="#pr" x="1710.0" y="403.5"/>
<use href="#pr" x="1681.7" y="406.5"/>
<use href="#pr" x="1641.0" y="450.9"/>
<use href="#pr" x="1800.2" y="400.4"/>
<use href="#pr" x="1806.9" y="402.6"/>
<use href="#pr" x="1715.2" y="382.1"/>
<use href="#pr" x="1747.9" y="380.9"/>
<use href="#pr" x="1748.7" y="391.9"/>
<use href="#pr" x="1650.8" y="455.4"/>
<use href="#pr" x="1661.6" y="448.1"/>
<use href="#pr" x="1647.4" y="432.0"/>
<use href="#pr" x="1668.6" y="411.0"/>
<use href="#pr" x="1655.9" y="429.8"/>
<use href="#pr" x="1785.7" y="394.9"/>
<use href="#pr" x="1775.2" y="386.4"/>
<use href="#pr" x="1723.5" y="419.4"/>
<use href="#pr" x="1764.4" y="412.8"/>
<use href="#pr" x="1694.3" y="390.7"/>
<use href="#pr" x="1680.4" y="428.9"/>
<use href="#pr" x="1740.0" y="400.9"/>
<use href="#pr" x="1701.0" y="413.0"/>
<use href="#pr" x="1708.4" y="401.7"/>
<use href="#pr" x="1848.1" y="395.7"/>
<use href="#pr" x="1665.4" y="417.7"/>
<use href="#pr" x="1749.5" y="395.6"/>
<use href="#pr" x="1745.0" y="412.4"/>
<use href="#pr" x="1649.0" y="429.0"/>
<use href="#pr" x="1724.2" y="384.9"/>
<use href="#pr" x="1669.9" y="437.2"/>
<use href="#pr" x="1734.8" y="410.0"/>
<use href="#pr" x="1753.8" y="404.0"/>
<use href="#pr" x="1755.2" y="378.4"/>
<use href="#pr" x="1734.7" y="410.8"/>
<use href="#pr" x="1618.7" y="471.8"/>
<use href="#pr" x="1667.0" y="433.9"/>
<use href="#pr" x="1769.4" y="376.0"/>
<use href="#pr" x="1718.6" y="400.6"/>
<use href="#pr" x="1785.6" y="395.5"/>
<use href="#pr" x="1718.7" y="378.7"/>
<use href="#pr" x="1706.1" y="376.2"/>
<use href="#pr" x="1716.3" y="414.4"/>
<use href="#pr" x="1758.3" y="374.0"/>
<use href="#pr" x="1790.8" y="405.6"/>
<use href="#pr" x="1683.3" y="404.8"/>
<use href="#pr" x="1792.4" y="403.7"/>
<use href="#pr" x="1794.8" y="399.3"/>
<use href="#pr" x="1759.7" y="412.3"/>
<use href="#pr" x="1784.1" y="401.2"/>
<use href="#pr" x="1734.1" y="422.1"/>
<use href="#pr" x="1696.2" y="408.1"/>
<use href="#pr" x="1675.0" y="400.2"/>
<use href="#pr" x="1705.0" y="424.6"/>
<use href="#pr" x="1686.7" y="432.5"/>
<use href="#pr" x="1803.1" y="406.6"/>
<use href="#pr" x="1826.8" y="393.8"/>
<use href="#pr" x="1765.7" y="387.3"/>
<use href="#pr" x="1746.9" y="406.4"/>
<use href="#pr" x="1765.4" y="387.4"/>
<use href="#pr" x="1726.8" y="396.8"/>
<use href="#pr" x="1699.3" y="395.5"/>
<use href="#pr" x="1731.7" y="388.2"/>
<use href="#pr" x="1742.4" y="375.8"/>
<use href="#pr" x="1746.2" y="374.0"/>
<use href="#pr" x="1660.2" y="424.0"/>
<use href="#pr" x="1736.9" y="388.0"/>
<use href="#pr" x="1714.4" y="418.3"/>
<use href="#pr" x="1640.3" y="443.6"/>
<use href="#pr" x="1728.4" y="404.1"/>
<use href="#pr" x="1684.5" y="395.5"/>
<use href="#pr" x="1629.4" y="464.6"/>
<use href="#pr" x="1768.7" y="401.5"/>
<use href="#pr" x="1706.9" y="386.7"/>
<use href="#pr" x="1699.5" y="427.1"/>
<use href="#pr" x="1685.2" y="433.2"/>
<use href="#pr" x="1771.0" y="407.1"/>
<use href="#pr" x="1671.0" y="413.1"/>
<use href="#pr" x="1779.7" y="393.4"/>
<use href="#pr" x="1661.3" y="442.7"/>
<use href="#pr" x="1725.3" y="413.6"/>
<use href="#pr" x="1682.9" y="438.3"/>
<use href="#pr" x="1776.9" y="380.7"/>
<use href="#pr" x="1704.0" y="398.3"/>
<use href="#pr" x="1743.1" y="386.0"/>
<use href="#pr" x="1690.8" y="411.3"/>
<use href="#pr" x="1737.1" y="421.6"/>
<use href="#pr" x="1769.0" y="395.3"/>
<use href="#pr" x="1725.2" y="414.1"/>
<use href="#pr" x="1725.8" y="396.7"/>
<use href="#pr" x="1744.6" y="391.9"/>
<use href="#pr" x="1837.9" y="402.7"/>
<use href="#pr" x="1773.8" y="411.7"/>
<use href="#pr" x="1699.8" y="428.8"/>
<use href="#pr" x="1727.6" y="406.2"/>
<use href="#pr" x="1796.1" y="406.4"/>
<use href="#pr" x="1792.2" y="386.2"/>
<use href="#pr" x="1757.4" y="401.5"/>
<use href="#pr" x="1778.0" y="384.1"/>
<use href="#pr" x="1712.0" y="401.5"/>
<use href="#pr" x="1652.2" y="452.3"/>
<use href="#pr" x="1672.7" y="422.5"/>
<use href="#pr" x="1754.3" y="398.2"/>
<use href="#pr" x="1745.4" y="396.9"/>
<use href="#pr" x="1765.8" y="407.7"/>
<use href="#pr" x="1807.8" y="400.4"/>
<use href="#pr" x="1702.1" y="398.4"/>
<use href="#pr" x="1677.3" y="432.6"/>
<use href="#pr" x="1771.4" y="396.8"/>
<use href="#pr" x="1671.7" y="437.4"/>
<use href="#pr" x="1706.5" y="429.3"/>
<use href="#pr" x="1652.3" y="439.0"/>
<use href="#pr" x="1636.7" y="454.3"/>
<use href="#pr" x="1708.0" y="427.4"/>
<use href="#pr" x="1706.8" y="429.2"/>
<use href="#pg" x="1839.2" y="403.6"/>
<use href="#pg" x="1701.1" y="414.5"/>
<use href="#pg" x="1682.8" y="438.1"/>
<use href="#pg" x="1750.6" y="404.2"/>
<use href="#pg" x="1700.0" y="424.2"/>
<use href="#pg" x="1670.1" y="419.6"/>
<use href="#pg" x="1728.7" y="421.9"/>
<use href="#pg" x="1740.2" y="409.1"/>
<use href="#pg" x="1606.8" y="485.8"/>
<use href="#pg" x="1658.0" y="450.1"/>
<use href="#pg" x="1733.8" y="418.3"/>
<use href="#pg" x="1844.9" y="397.6"/>
<use href="#pg" x="1815.2" y="406.8"/>
<use href="#pg" x="1677.7" y="410.4"/>
<use href="#pg" x="1642.7" y="443.5"/>
<use href="#pg" x="1648.3" y="449.2"/>
<use href="#pg" x="1739.3" y="417.6"/>
<use href="#pg" x="1753.7" y="403.0"/>
<use href="#pg" x="1714.6" y="418.9"/>
<use href="#pg" x="1692.0" y="411.1"/>
<use href="#pg" x="1702.1" y="427.5"/>
<use href="#pg" x="1749.0" y="405.7"/>
<use href="#pg" x="1688.6" y="432.4"/>
<use href="#pg" x="1745.8" y="410.7"/>
<use href="#pg" x="1759.2" y="414.9"/>
<use href="#pg" x="1668.8" y="425.9"/>
<use href="#pg" x="1798.7" y="404.3"/>
<use href="#pg" x="1805.9" y="404.8"/>
<use href="#pg" x="1685.5" y="425.1"/>
<use href="#pg" x="1833.6" y="400.2"/>
<use href="#pg" x="1647.1" y="443.1"/>
<use href="#pg" x="1668.1" y="441.7"/>
<use href="#pg" x="1731.7" y="422.9"/>
<use href="#pg" x="1667.1" y="440.1"/>
<use href="#pg" x="1716.0" y="408.0"/>
<use href="#pg" x="1723.6" y="412.9"/>
<use href="#pg" x="1660.9" y="447.8"/>
<use href="#pg" x="1778.8" y="412.3"/>
<use href="#pg" x="1840.1" y="397.2"/>
<use href="#pg" x="1641.9" y="456.5"/>
<use href="#pg" x="1780.1" y="403.8"/>
<use href="#pg" x="1759.3" y="410.7"/>
<use href="#pg" x="1723.3" y="422.9"/>
<use href="#pg" x="1782.0" y="401.4"/>
<use href="#pg" x="1664.0" y="434.4"/>
<use href="#pg" x="1750.4" y="412.2"/>
<use href="#pg" x="1701.9" y="416.4"/>
<use href="#pg" x="1752.5" y="406.5"/>
<use href="#pg" x="1723.1" y="417.3"/>
<use href="#pg" x="1862.2" y="400.7"/>
<use href="#pg" x="1641.7" y="457.8"/>
<use href="#pg" x="1821.4" y="398.3"/>
<use href="#pg" x="1853.3" y="397.7"/>
<use href="#pg" x="1711.4" y="404.2"/>
<use href="#pg" x="1808.8" y="403.0"/>
<use href="#pg" x="1762.6" y="399.8"/>
<use href="#pg" x="1816.4" y="398.0"/>
<use href="#pg" x="1659.9" y="429.9"/>
<use href="#pg" x="1675.8" y="421.8"/>
<use href="#pg" x="1629.4" y="465.5"/>
<use href="#pg" x="1694.9" y="411.9"/>
<use href="#pg" x="1755.2" y="415.6"/>
<use href="#pg" x="1676.6" y="440.0"/>
<use href="#pg" x="1655.0" y="434.6"/>
<use href="#pg" x="1846.3" y="397.0"/>
<use href="#pg" x="1686.5" y="427.8"/>
<use href="#pg" x="1699.6" y="417.2"/>
<use href="#pg" x="1685.3" y="429.0"/>
<use href="#pg" x="1699.9" y="409.2"/>
<use href="#pg" x="1676.5" y="415.9"/>
<use href="#pg" x="1613.3" y="477.9"/>
<use href="#pg" x="1711.2" y="427.9"/>
<use href="#pg" x="1663.3" y="434.9"/>
<use href="#pg" x="1848.0" y="396.5"/>
<use href="#pg" x="1627.1" y="470.4"/>
<use href="#pg" x="1694.9" y="433.4"/>
<use href="#pg" x="1712.0" y="420.8"/>
<use href="#pg" x="1669.7" y="432.5"/>
<use href="#pg" x="1670.8" y="431.5"/>
<use href="#pg" x="1728.1" y="403.7"/>
<use href="#pg" x="1773.4" y="411.7"/>
<use href="#pg" x="1758.4" y="408.2"/>
<use href="#pg" x="1781.0" y="408.5"/>
<use href="#pg" x="1657.1" y="434.5"/>
<use href="#pg" x="1806.0" y="403.4"/>
<use href="#pg" x="1736.5" y="405.0"/>
<use href="#pg" x="1723.3" y="413.3"/>
<use href="#pg" x="1658.1" y="432.5"/>
<use href="#pg" x="1857.8" y="400.7"/>
<use href="#pg" x="1684.0" y="411.4"/>
<use href="#pg" x="1698.2" y="429.1"/>
<use href="#pg" x="1678.6" y="427.8"/>
<use href="#pg" x="1787.7" y="399.5"/>
<use href="#pg" x="1724.8" y="411.8"/>
<use href="#pg" x="1713.3" y="421.3"/>
<use href="#pg" x="1746.6" y="417.4"/>
<use href="#pg" x="1736.9" y="411.1"/>
<use href="#pg" x="1806.1" y="401.6"/>
<use href="#pg" x="1662.5" y="443.9"/>
<use href="#pg" x="1688.0" y="427.2"/>
<use href="#pg" x="1673.5" y="413.3"/>
<use href="#pg" x="1679.4" y="431.8"/>
<use href="#pg" x="1650.9" y="431.1"/>
<use href="#pg" x="1640.8" y="457.8"/>
<use href="#pg" x="1641.1" y="447.3"/>
<use href="#pg" x="1782.9" y="401.3"/>
<use href="#pg" x="1608.9" y="480.5"/>
<use href="#pg" x="1638.1" y="454.9"/>
<use href="#pg" x="1672.2" y="443.1"/>
<use href="#pg" x="1668.0" y="442.0"/>
<use href="#pg" x="1809.0" y="397.8"/>
<use href="#pg" x="1738.1" y="418.5"/>
<use href="#pg" x="1634.0" y="463.3"/>
<use href="#pg" x="1661.5" y="424.1"/>
<use href="#pg" x="1632.3" y="459.6"/>
<use href="#pg" x="1687.3" y="424.9"/>
<use href="#pg" x="1853.9" y="402.2"/>
<use href="#pg" x="1653.5" y="444.9"/>
<use href="#pg" x="1813.5" y="405.4"/>
<use href="#pg" x="1826.2" y="397.1"/>
<use href="#pg" x="1669.3" y="415.8"/>
<use href="#pg" x="1702.5" y="423.2"/>
<use href="#pg" x="1620.8" y="468.7"/>
<use href="#pg" x="1765.5" y="408.0"/>
<use href="#pg" x="1711.4" y="415.1"/>
<use href="#pg" x="1780.7" y="404.4"/>
<use href="#pg" x="1822.4" y="404.6"/>
<use href="#pg" x="1838.9" y="403.0"/>
<use href="#pg" x="1671.9" y="443.0"/>
<use href="#pg" x="1847.6" y="397.2"/>
<use href="#pg" x="1647.9" y="437.1"/>
<use href="#pg" x="1769.5" y="404.2"/>
<use href="#pg" x="1709.9" y="427.2"/>
<use href="#pg" x="1711.4" y="425.3"/>
<use href="#pg" x="1722.3" y="413.8"/>
<use href="#pg" x="1686.6" y="426.1"/>
<use href="#pg" x="1722.9" y="403.6"/>
<use href="#pg" x="1792.2" y="407.0"/>
<use href="#pg" x="1846.6" y="402.7"/>
<use href="#pg" x="1705.3" y="421.7"/>
<use href="#pg" x="1731.4" y="402.3"/>
<use href="#pg" x="1697.7" y="417.9"/>
<use href="#pg" x="1796.9" y="403.6"/>
<use href="#pg" x="1696.0" y="432.5"/>
<use href="#pr" x="1740.7" y="378.8"/>
<use href="#pr" x="1685.1" y="403.6"/>
<use href="#pr" x="1887.6" y="411.3"/>
<use href="#pr" x="1759.3" y="392.8"/>
<use href="#pr" x="1838.4" y="400.2"/>
<use href="#pr" x="1723.7" y="394.1"/>
<use href="#pr" x="1733.3" y="374.3"/>
<use href="#pr" x="1764.5" y="400.6"/>
<use href="#pr" x="1733.3" y="404.2"/>
<use href="#pr" x="1689.9" y="404.8"/>
<use href="#pr" x="1677.6" y="397.3"/>
<use href="#pr" x="1756.9" y="378.3"/>
<use href="#pr" x="1826.7" y="398.7"/>
<use href="#pr" x="1782.4" y="384.6"/>
<use href="#pr" x="1733.8" y="373.7"/>
<use href="#pr" x="1721.2" y="377.1"/>
<use href="#pr" x="1766.7" y="407.2"/>
<use href="#pr" x="1730.1" y="375.7"/>
<use href="#pr" x="1706.7" y="396.9"/>
<use href="#pr" x="1753.4" y="385.4"/>
<use href="#pr" x="1778.1" y="404.9"/>
<use href="#pr" x="1886.7" y="413.0"/>
<use href="#pr" x="1742.9" y="370.6"/>
<use href="#pr" x="1686.3" y="400.8"/>
<use href="#pr" x="1740.2" y="376.8"/>
<use href="#pr" x="1727.6" y="385.9"/>
<use href="#pr" x="1845.4" y="400.0"/>
<use href="#pr" x="1691.2" y="411.8"/>
<use href="#pr" x="1869.2" y="401.3"/>
<use href="#pr" x="1690.4" y="399.5"/>
<use href="#pr" x="1833.8" y="401.2"/>
<use href="#pr" x="1887.8" y="406.5"/>
<use href="#pr" x="1709.5" y="376.9"/>
<use href="#pr" x="1699.0" y="390.9"/>
<use href="#pr" x="1731.1" y="372.6"/>
<use href="#pr" x="1833.9" y="402.3"/>
<use href="#pr" x="1684.9" y="405.5"/>
<use href="#pr" x="1708.7" y="403.2"/>
<use href="#pr" x="1821.1" y="403.7"/>
<use href="#pr" x="1859.6" y="404.3"/>
<use href="#pr" x="1707.1" y="392.7"/>
<use href="#pr" x="1735.1" y="376.1"/>
<use href="#pr" x="1684.3" y="403.8"/>
<use href="#pr" x="1706.1" y="401.7"/>
<use href="#pr" x="1785.4" y="404.5"/>
<use href="#pr" x="1712.4" y="389.2"/>
<use href="#pr" x="1715.9" y="402.5"/>
<use href="#pr" x="1780.5" y="402.8"/>
<use href="#pr" x="1799.4" y="395.3"/>
<use href="#pr" x="1767.0" y="393.3"/>
<use href="#pg" x="1682.6" y="394.0"/>
<use href="#pg" x="1741.8" y="398.9"/>
<use href="#pg" x="1812.2" y="402.0"/>
<use href="#pg" x="1792.8" y="399.1"/>
<use href="#pg" x="1844.4" y="402.5"/>
<use href="#pg" x="1773.1" y="385.5"/>
<use href="#pg" x="1754.0" y="389.1"/>
<use href="#pg" x="1800.1" y="395.3"/>
<use href="#pg" x="1803.2" y="396.5"/>
<use href="#pg" x="1754.3" y="401.1"/>
<use href="#pg" x="1690.1" y="397.2"/>
<use href="#pg" x="1719.4" y="375.1"/>
<use href="#pg" x="1748.6" y="377.2"/>
<use href="#pg" x="1778.4" y="407.3"/>
<use href="#pg" x="1767.5" y="396.4"/>
<use href="#pg" x="1740.5" y="399.6"/>
<use href="#pg" x="1770.1" y="395.6"/>
<use href="#pr" x="1591.1" y="549.5"/>
<use href="#pr" x="1677.0" y="511.9"/>
<use href="#pr" x="1608.2" y="534.8"/>
<use href="#pr" x="1590.5" y="545.9"/>
<use href="#pr" x="1609.0" y="545.5"/>
<use href="#pr" x="1589.2" y="536.7"/>
<use href="#pr" x="1690.9" y="507.0"/>
<use href="#pr" x="1580.6" y="553.7"/>
<use href="#pr" x="1697.2" y="474.4"/>
<use href="#pr" x="1651.5" y="526.1"/>
<use href="#pr" x="1699.6" y="494.4"/>
<use href="#pr" x="1654.8" y="527.3"/>
<use href="#pr" x="1701.7" y="484.6"/>
<use href="#pr" x="1693.8" y="489.2"/>
<use href="#pr" x="1679.3" y="507.8"/>
<use href="#pr" x="1700.4" y="483.5"/>
<use href="#pr" x="1602.6" y="546.6"/>
<use href="#pr" x="1654.9" y="496.7"/>
<use href="#pr" x="1679.0" y="495.6"/>
<use href="#pr" x="1645.9" y="527.7"/>
<use href="#pr" x="1658.8" y="518.4"/>
<use href="#pr" x="1574.5" y="551.5"/>
<use href="#pr" x="1611.0" y="534.8"/>
<use href="#pr" x="1698.7" y="486.1"/>
<use href="#pr" x="1638.7" y="518.3"/>
<use href="#pr" x="1679.2" y="521.3"/>
<use href="#pr" x="1601.6" y="534.3"/>
<use href="#pr" x="1652.3" y="531.1"/>
<use href="#pr" x="1658.8" y="507.9"/>
<use href="#pr" x="1601.6" y="537.3"/>
<use href="#pr" x="1692.3" y="528.0"/>
<use href="#pr" x="1585.0" y="550.2"/>
<use href="#pr" x="1649.0" y="511.0"/>
<use href="#pr" x="1621.3" y="541.4"/>
<use href="#pr" x="1624.8" y="536.2"/>
<use href="#pr" x="1570.0" y="558.5"/>
<use href="#pr" x="1700.3" y="481.3"/>
<use href="#pr" x="1640.9" y="521.6"/>
<use href="#pr" x="1671.3" y="522.5"/>
<use href="#pr" x="1648.5" y="523.0"/>
<use href="#pr" x="1614.7" y="542.9"/>
<use href="#pr" x="1630.5" y="522.7"/>
<use href="#pr" x="1664.0" y="534.6"/>
<use href="#pr" x="1567.3" y="561.4"/>
<use href="#pr" x="1661.3" y="499.2"/>
<use href="#pr" x="1664.6" y="499.1"/>
<use href="#pr" x="1656.0" y="523.0"/>
<use href="#pr" x="1579.7" y="550.7"/>
<use href="#pr" x="1589.3" y="544.2"/>
<use href="#pr" x="1666.8" y="528.8"/>
<use href="#pr" x="1702.6" y="504.9"/>
<use href="#pr" x="1702.6" y="497.4"/>
<use href="#pr" x="1651.4" y="495.8"/>
<use href="#pr" x="1644.0" y="519.2"/>
<use href="#pr" x="1554.8" y="563.0"/>
<use href="#pr" x="1694.1" y="490.6"/>
<use href="#pr" x="1628.5" y="531.3"/>
<use href="#pr" x="1628.8" y="521.0"/>
<use href="#pr" x="1586.6" y="557.0"/>
<use href="#pr" x="1699.6" y="521.6"/>
<use href="#pr" x="1679.0" y="491.3"/>
<use href="#pr" x="1754.7" y="493.1"/>
<use href="#pr" x="1778.5" y="459.7"/>
<use href="#pr" x="1703.0" y="487.3"/>
<use href="#pr" x="1866.9" y="433.0"/>
<use href="#pr" x="1761.7" y="477.7"/>
<use href="#pr" x="1767.5" y="483.2"/>
<use href="#pr" x="1789.7" y="471.5"/>
<use href="#pr" x="1727.0" y="479.7"/>
<use href="#pr" x="1791.3" y="470.6"/>
<use href="#pr" x="1721.7" y="515.6"/>
<use href="#pr" x="1725.4" y="482.6"/>
<use href="#pr" x="1725.1" y="512.0"/>
<use href="#pr" x="1720.0" y="505.0"/>
<use href="#pr" x="1847.9" y="445.0"/>
<use href="#pr" x="1744.2" y="469.9"/>
<use href="#pr" x="1792.2" y="464.0"/>
<use href="#pr" x="1728.2" y="503.4"/>
<use href="#pr" x="1721.2" y="482.4"/>
<use href="#pr" x="1787.3" y="464.4"/>
<use href="#pr" x="1750.4" y="476.9"/>
<use href="#pr" x="1744.9" y="485.0"/>
<use href="#pr" x="1774.5" y="461.7"/>
<use href="#pr" x="1721.4" y="473.3"/>
<use href="#pr" x="1785.4" y="484.1"/>
<use href="#pr" x="1799.1" y="473.1"/>
<use href="#pr" x="1766.8" y="483.7"/>
<use href="#pr" x="1833.1" y="451.0"/>
<use href="#pr" x="1716.2" y="473.7"/>
<use href="#pr" x="1743.8" y="483.5"/>
<use href="#pr" x="1868.0" y="441.3"/>
<use href="#pr" x="1877.0" y="433.2"/>
<use href="#pr" x="1890.7" y="430.8"/>
<use href="#pr" x="1849.5" y="445.7"/>
<use href="#pr" x="1872.2" y="428.7"/>
<use href="#pr" x="1734.2" y="502.0"/>
<use href="#pr" x="1758.8" y="480.4"/>
<use href="#pr" x="1753.9" y="463.4"/>
<use href="#pr" x="1870.7" y="430.1"/>
<use href="#pr" x="1709.7" y="511.8"/>
<use href="#pr" x="1717.8" y="468.7"/>
<use href="#pr" x="1862.2" y="442.2"/>
<use href="#pr" x="1743.6" y="462.1"/>
<use href="#pg" x="1657.6" y="492.0"/>
<use href="#pg" x="1644.3" y="525.9"/>
<use href="#pg" x="1728.2" y="465.4"/>
<use href="#pg" x="1683.0" y="495.9"/>
<use href="#pg" x="1716.6" y="513.8"/>
<use href="#pg" x="1713.0" y="472.5"/>
<use href="#pg" x="1672.6" y="516.8"/>
<use href="#pg" x="1618.4" y="528.8"/>
<use href="#pg" x="1684.4" y="515.0"/>
<use href="#pg" x="1698.4" y="502.3"/>
<use href="#pg" x="1748.4" y="494.3"/>
<use href="#pg" x="1636.6" y="522.1"/>
<use href="#pg" x="1679.7" y="486.9"/>
<use href="#pg" x="1678.9" y="512.7"/>
<use href="#pg" x="1578.0" y="552.1"/>
<use href="#pg" x="1700.3" y="499.7"/>
<use href="#pg" x="1737.2" y="459.4"/>
<use href="#pg" x="1619.5" y="537.3"/>
<use href="#pg" x="1754.4" y="493.3"/>
<use href="#pg" x="1708.1" y="475.8"/>
<use href="#pg" x="1776.9" y="490.8"/>
<use href="#pg" x="1679.4" y="491.8"/>
<use href="#pg" x="1692.2" y="484.8"/>
<use href="#pg" x="1845.4" y="440.4"/>
<use href="#pr" x="1758.5" y="435.3"/>
<use href="#pr" x="1602.8" y="509.1"/>
<use href="#pr" x="1665.9" y="484.7"/>
<use href="#pr" x="1642.1" y="497.8"/>
<use href="#pr" x="1747.5" y="452.4"/>
<use href="#pr" x="1798.9" y="437.2"/>
<use href="#pr" x="1813.7" y="452.9"/>
<use href="#pr" x="1635.0" y="481.9"/>
<use href="#pr" x="1644.0" y="494.4"/>
<use href="#pr" x="1834.3" y="432.4"/>
<use href="#pr" x="1789.3" y="435.2"/>
<use href="#pr" x="1821.8" y="443.3"/>
<use href="#pr" x="1649.5" y="474.4"/>
<use href="#pr" x="1720.1" y="452.0"/>
<use href="#pr" x="1796.5" y="446.4"/>
<use href="#pr" x="1813.8" y="444.4"/>
<use href="#pr" x="1597.7" y="515.4"/>
<use href="#pr" x="1771.7" y="431.1"/>
<use href="#pr" x="1717.0" y="461.6"/>
<use href="#pr" x="1689.6" y="466.8"/>
<use href="#pr" x="1886.1" y="420.3"/>
<use href="#pr" x="1787.8" y="438.8"/>
<use href="#pr" x="1741.1" y="447.5"/>
<use href="#pr" x="1830.1" y="426.9"/>
<use href="#pr" x="1672.0" y="480.8"/>
<use href="#pr" x="1738.1" y="443.5"/>
<use href="#pr" x="1638.7" y="498.4"/>
<use href="#pr" x="1763.0" y="457.7"/>
<use href="#pr" x="1630.7" y="485.1"/>
<use href="#pr" x="1727.3" y="454.2"/>
<use href="#pr" x="1788.0" y="437.1"/>
<use href="#pr" x="1552.5" y="562.4"/>
<use href="#pr" x="1584.6" y="532.9"/>
<use href="#pr" x="1669.8" y="470.7"/>
<use href="#pr" x="1742.4" y="446.6"/>
<use href="#pr" x="1686.1" y="464.2"/>
<use href="#pr" x="1694.5" y="465.2"/>
<use href="#pr" x="1560.1" y="556.7"/>
<use href="#pr" x="1604.5" y="513.0"/>
<use href="#pr" x="1651.0" y="479.2"/>
<use href="#pr" x="1592.5" y="528.7"/>
<use href="#pr" x="1939.1" y="419.3"/>
<use href="#pr" x="1655.1" y="473.1"/>
<use href="#pr" x="1767.5" y="446.4"/>
<use href="#pr" x="1797.2" y="428.1"/>
<use href="#pr" x="1833.8" y="428.2"/>
<use href="#pr" x="1778.3" y="450.5"/>
<use href="#pr" x="1673.3" y="477.9"/>
<use href="#pr" x="1821.0" y="429.9"/>
<use href="#pr" x="1705.7" y="452.1"/>
<use href="#pr" x="1795.0" y="455.7"/>
<use href="#pr" x="1660.6" y="478.6"/>
<use href="#pr" x="1791.1" y="434.6"/>
<use href="#pr" x="1871.2" y="424.0"/>
<use href="#pr" x="1746.3" y="439.4"/>
<use href="#pr" x="1696.3" y="458.7"/>
<use href="#pr" x="1648.2" y="493.9"/>
<use href="#pr" x="1784.7" y="452.0"/>
<use href="#pr" x="1764.9" y="432.3"/>
<use href="#pr" x="1848.3" y="421.8"/>
<use href="#pr" x="1846.9" y="422.8"/>
<use href="#pr" x="1830.9" y="427.4"/>
<use href="#pr" x="1704.1" y="455.0"/>
<use href="#pr" x="1642.1" y="486.0"/>
<use href="#pr" x="1828.2" y="440.1"/>
<use href="#pr" x="1857.3" y="428.0"/>
<use href="#pr" x="1761.9" y="441.1"/>
<use href="#pr" x="1748.8" y="435.2"/>
<use href="#pr" x="1848.5" y="432.6"/>
<use href="#pr" x="1636.2" y="484.5"/>
<use href="#pr" x="1785.4" y="436.0"/>
<use href="#pr" x="1750.9" y="443.5"/>
<use href="#pr" x="1724.4" y="446.1"/>
<use href="#pr" x="1925.2" y="417.3"/>
<use href="#pr" x="1884.1" y="419.8"/>
<use href="#pr" x="1835.9" y="425.5"/>
<use href="#pr" x="1778.9" y="449.2"/>
<use href="#pr" x="1777.4" y="443.0"/>
<use href="#pr" x="1658.2" y="471.8"/>
<use href="#pr" x="1733.4" y="451.2"/>
<use href="#pr" x="1750.7" y="437.5"/>
<use href="#pr" x="1812.8" y="451.0"/>
<use href="#pr" x="1826.9" y="433.5"/>
<use href="#pr" x="1738.7" y="449.4"/>
<use href="#pr" x="1849.3" y="431.6"/>
<use href="#pr" x="1825.3" y="424.7"/>
<use href="#pr" x="1706.9" y="447.3"/>
<use href="#pr" x="1596.0" y="516.0"/>
<use href="#pr" x="1611.2" y="501.7"/>
<use href="#pr" x="1770.7" y="437.0"/>
<use href="#pr" x="1828.5" y="431.4"/>
<use href="#pr" x="1679.5" y="457.5"/>
<use href="#pr" x="1914.2" y="420.2"/>
<use href="#pr" x="1647.1" y="490.5"/>
<use href="#pr" x="1628.3" y="505.6"/>
<use href="#pr" x="1920.6" y="415.1"/>
<use href="#pr" x="1827.1" y="427.5"/>
<use href="#pr" x="1712.0" y="464.6"/>
<use href="#pr" x="1798.7" y="447.2"/>
<use href="#pr" x="1830.1" y="435.7"/>
<use href="#pr" x="1602.1" y="508.5"/>
<use href="#pr" x="1742.7" y="452.6"/>
<use href="#pr" x="1783.5" y="431.2"/>
<use href="#pr" x="1592.6" y="521.6"/>
<use href="#pr" x="1827.2" y="446.9"/>
<use href="#pr" x="1629.1" y="508.3"/>
<use href="#pr" x="1610.4" y="501.9"/>
<use href="#pr" x="1837.6" y="430.6"/>
<use href="#pr" x="1844.5" y="428.6"/>
<use href="#pr" x="1715.8" y="462.3"/>
<use href="#pr" x="1654.7" y="488.1"/>
<use href="#pr" x="1912.8" y="416.5"/>
<use href="#pr" x="1850.9" y="421.1"/>
<use href="#pr" x="1898.6" y="420.8"/>
<use href="#pr" x="1821.8" y="428.2"/>
<use href="#pr" x="1709.4" y="464.2"/>
<use href="#pr" x="1649.7" y="477.5"/>
<use href="#pr" x="1602.6" y="525.9"/>
<use href="#pr" x="1912.4" y="416.0"/>
<use href="#pr" x="1826.8" y="436.1"/>
<use href="#pr" x="1797.4" y="430.8"/>
<use href="#pr" x="1609.5" y="509.0"/>
<use href="#pr" x="1592.7" y="527.0"/>
<use href="#pr" x="1595.0" y="530.8"/>
<use href="#pr" x="1665.9" y="463.9"/>
<use href="#pr" x="1781.1" y="433.6"/>
<use href="#pr" x="1800.5" y="448.4"/>
<use href="#pr" x="1624.1" y="508.0"/>
<use href="#pr" x="1806.4" y="437.2"/>
<use href="#pr" x="1758.1" y="453.5"/>
<use href="#pr" x="1657.0" y="485.1"/>
<use href="#pr" x="1791.1" y="445.3"/>
<use href="#pr" x="1902.9" y="415.6"/>
<use href="#pr" x="1752.2" y="441.2"/>
<use href="#pr" x="1635.9" y="490.2"/>
<use href="#pr" x="1730.3" y="441.3"/>
<use href="#pr" x="1820.8" y="447.5"/>
<use href="#pr" x="1798.7" y="427.3"/>
<use href="#pr" x="1554.3" y="558.5"/>
<use href="#pr" x="1697.6" y="458.7"/>
<use href="#pr" x="1706.3" y="456.0"/>
<use href="#pr" x="1928.6" y="415.5"/>
<use href="#pr" x="1673.8" y="468.4"/>
<use href="#pr" x="1807.9" y="452.1"/>
<use href="#pr" x="1909.8" y="419.8"/>
<use href="#pr" x="1729.8" y="454.9"/>
<use href="#pr" x="1832.6" y="424.4"/>
<use href="#pg" x="1623.8" y="503.9"/>
<use href="#pg" x="1733.4" y="452.9"/>
<use href="#pg" x="1798.7" y="447.6"/>
<use href="#pg" x="1809.6" y="436.2"/>
<use href="#pg" x="1630.7" y="496.4"/>
<use href="#pg" x="1742.0" y="449.8"/>
<use href="#pg" x="1849.5" y="434.4"/>
<use href="#pg" x="1558.2" y="556.8"/>
<use href="#pg" x="1606.4" y="509.0"/>
<use href="#pg" x="1627.5" y="494.0"/>
<use href="#pg" x="1684.5" y="456.3"/>
<use href="#pg" x="1810.9" y="435.0"/>
<use href="#pg" x="1670.5" y="469.0"/>
<use href="#pg" x="1762.0" y="438.3"/>
<use href="#pg" x="1636.5" y="480.7"/>
<use href="#pg" x="1579.4" y="528.3"/>
<use href="#pg" x="1599.1" y="517.1"/>
<use href="#pg" x="1594.6" y="531.4"/>
<use href="#pg" x="1824.6" y="424.1"/>
<use href="#pg" x="1837.6" y="434.1"/>
<use href="#pg" x="1620.9" y="513.1"/>
<use href="#pg" x="1595.9" y="514.4"/>
<use href="#pg" x="1650.1" y="483.6"/>
<use href="#pg" x="1752.3" y="435.2"/>
<use href="#pg" x="1680.8" y="459.7"/>
<use href="#pg" x="1648.3" y="476.4"/>
<use href="#pg" x="1673.3" y="463.9"/>
<use href="#pg" x="1691.2" y="471.8"/>
<use href="#pg" x="1830.9" y="438.1"/>
<use href="#pg" x="1627.4" y="489.3"/>
<use href="#pg" x="1614.6" y="504.7"/>
<use href="#pg" x="1741.9" y="449.3"/>
<use href="#pg" x="1632.3" y="485.4"/>
<use href="#pg" x="1755.7" y="435.3"/>
<use href="#pg" x="1635.2" y="489.7"/>
<use href="#pg" x="1820.5" y="448.6"/>
<use href="#pg" x="1874.2" y="423.6"/>
<use href="#pg" x="1882.6" y="418.6"/>
<use href="#pg" x="1596.5" y="522.7"/>
<use href="#pg" x="1564.2" y="546.3"/>
<use href="#pg" x="1584.8" y="524.0"/>
<use href="#pg" x="1678.0" y="462.7"/>
<use href="#pg" x="1714.4" y="447.2"/>
<use href="#pg" x="1826.7" y="443.7"/>
<use href="#pg" x="1786.5" y="443.0"/>
<use href="#pg" x="1756.6" y="452.4"/>
<use href="#pg" x="1842.1" y="438.6"/>
<use href="#pg" x="1872.8" y="420.5"/>
<use href="#pg" x="1679.7" y="471.6"/>
<use href="#pg" x="1820.2" y="425.0"/>
<use href="#pg" x="1669.0" y="480.0"/>
<use href="#pg" x="1714.5" y="461.5"/>
<use href="#pg" x="1742.7" y="446.2"/>
<use href="#pg" x="1639.7" y="493.4"/>
<use href="#pg" x="1837.5" y="433.8"/>
<use href="#pg" x="1825.7" y="442.5"/>
<use href="#pg" x="1890.8" y="421.6"/>
<use href="#pg" x="1568.2" y="542.2"/>
<use href="#pg" x="1661.5" y="470.2"/>
<use href="#pg" x="1596.7" y="517.5"/>
<use href="#pg" x="1600.6" y="524.9"/>
<use href="#pg" x="1766.6" y="445.8"/>
<use href="#pg" x="1659.1" y="473.5"/>
<use href="#pg" x="1589.0" y="528.7"/>
<use href="#pg" x="1736.5" y="444.9"/>
<use href="#pg" x="1653.3" y="484.0"/>
<use href="#pg" x="1641.2" y="496.6"/>
<use href="#pg" x="1640.2" y="490.9"/>
<use href="#pg" x="1715.3" y="444.6"/>
<use href="#pg" x="1804.5" y="445.3"/>
<use href="#pg" x="1736.5" y="451.4"/>
<use href="#pg" x="1638.7" y="484.4"/>
<use href="#pg" x="1766.3" y="445.3"/>
<use href="#pg" x="1769.1" y="457.7"/>
<use href="#pg" x="1823.0" y="441.1"/>
<use href="#pg" x="1862.5" y="426.7"/>
<use href="#pg" x="1573.5" y="541.4"/>
<use href="#pg" x="1691.8" y="461.3"/>
<use href="#pg" x="1653.1" y="480.3"/>
<use href="#pg" x="1665.4" y="475.8"/>
<use href="#pg" x="1599.5" y="527.4"/>
<use href="#pg" x="1710.9" y="446.6"/>
<use href="#pg" x="1778.3" y="451.3"/>
<use href="#pg" x="1636.2" y="488.7"/>
<use href="#pg" x="1571.8" y="543.3"/>
<use href="#pg" x="1781.5" y="446.3"/>
<use href="#pg" x="1766.1" y="445.8"/>
<use href="#pg" x="1773.8" y="443.7"/>
<use href="#pg" x="1735.5" y="453.6"/>
<use href="#pg" x="1818.6" y="446.5"/>
<use href="#pg" x="1662.5" y="478.3"/>
<use href="#pg" x="1684.2" y="472.2"/>
<use href="#pg" x="1736.8" y="456.7"/>
<use href="#pg" x="1762.7" y="432.3"/>
<use href="#pg" x="1852.4" y="424.1"/>
<use href="#pg" x="1682.2" y="458.8"/>
<use href="#pg" x="1841.6" y="427.7"/>
<use href="#pg" x="1874.6" y="420.3"/>
<use href="#pg" x="1778.9" y="432.9"/>
<use href="#pg" x="1668.4" y="472.3"/>
<use href="#pg" x="1762.7" y="435.4"/>
<use href="#pg" x="1825.0" y="435.0"/>
<use href="#pg" x="1788.8" y="432.8"/>
<use href="#pg" x="1614.0" y="505.1"/>
<use href="#pg" x="1659.6" y="475.4"/>
<use href="#pg" x="1722.0" y="459.8"/>
<use href="#pg" x="1831.7" y="435.3"/>
<use href="#pg" x="1798.7" y="442.7"/>
<use href="#pg" x="1665.1" y="485.0"/>
<use href="#pg" x="1653.2" y="488.9"/>
<use href="#pg" x="1600.9" y="520.0"/>
<use href="#pg" x="1745.5" y="441.7"/>
<use href="#pg" x="1674.1" y="481.4"/>
<use href="#pg" x="1823.8" y="432.8"/>
<use href="#pg" x="1668.8" y="475.7"/>
<use href="#pg" x="1766.2" y="435.6"/>
<use href="#pg" x="1807.1" y="431.6"/>
<use href="#pg" x="1854.2" y="432.0"/>
<use href="#pg" x="1849.6" y="434.8"/>
<use href="#pg" x="1807.7" y="446.6"/>
<use href="#pg" x="1808.0" y="430.5"/>
<use href="#pg" x="1737.5" y="455.8"/>
<use href="#pg" x="1778.7" y="449.8"/>
<use href="#pg" x="1583.6" y="534.6"/>
<use href="#pg" x="1890.4" y="416.7"/>
<use href="#pg" x="1800.9" y="444.1"/>
<use href="#pg" x="1858.3" y="418.6"/>
<use href="#pg" x="1818.0" y="429.7"/>
<use href="#pg" x="1843.9" y="439.2"/>
<use href="#pg" x="1670.8" y="477.0"/>
<use href="#pg" x="1762.7" y="451.3"/>
<use href="#pg" x="1603.1" y="515.4"/>
<use href="#pg" x="1764.1" y="456.0"/>
<use href="#pg" x="1652.5" y="472.1"/>
<use href="#pg" x="1774.3" y="434.9"/>
<use href="#pg" x="1555.5" y="559.9"/>
<use href="#pg" x="1773.2" y="437.0"/>
<use href="#pg" x="1667.6" y="479.1"/>
<use href="#pg" x="1795.1" y="452.1"/>
<use href="#pg" x="1685.3" y="468.4"/>
<use href="#pg" x="1764.0" y="441.0"/>
<use href="#pg" x="1813.3" y="427.3"/>
<use href="#pg" x="1853.6" y="435.0"/>
<use href="#pg" x="1600.8" y="510.0"/>
<use href="#pg" x="1795.1" y="440.2"/>
<use href="#pg" x="1610.2" y="499.2"/>
<use href="#pg" x="1636.4" y="483.7"/>
<use href="#pg" x="1778.4" y="451.4"/>
<use href="#pg" x="1797.2" y="429.4"/>
<use href="#pg" x="1701.1" y="452.7"/>
<use href="#pg" x="1692.4" y="465.2"/>
<use href="#pg" x="1635.0" y="487.5"/>
<use href="#pg" x="1801.7" y="454.0"/>
<use href="#pg" x="1673.6" y="465.8"/>
<use href="#pg" x="1632.0" y="493.7"/>
<use href="#pg" x="1683.8" y="467.6"/>
<use href="#pg" x="1739.4" y="449.6"/>
<use href="#pg" x="1631.5" y="489.3"/>
<use href="#pg" x="1749.8" y="443.1"/>
<use href="#pg" x="1665.6" y="473.6"/>
<use href="#pg" x="1838.4" y="420.8"/>
<use href="#pg" x="1691.7" y="457.2"/>
<use href="#pg" x="1657.9" y="470.1"/>
<use href="#pg" x="1875.7" y="421.0"/>
<use href="#pg" x="1750.0" y="438.5"/>
<use href="#pg" x="1821.1" y="427.4"/>
<use href="#pg" x="1859.8" y="432.5"/>
<use href="#pg" x="1631.2" y="497.2"/>
<use href="#pg" x="1845.0" y="425.6"/>
<use href="#pg" x="1620.7" y="498.2"/>
<use href="#pg" x="1844.3" y="434.4"/>
<use href="#pg" x="1736.2" y="456.7"/>
<use href="#pg" x="1594.2" y="518.3"/>
<use href="#pg" x="1675.8" y="462.7"/>
<use href="#pg" x="1813.9" y="432.6"/>
<use href="#pg" x="1812.8" y="427.5"/>
<use href="#pg" x="1817.0" y="426.8"/>
<use href="#pg" x="1749.4" y="450.5"/>
<use href="#pg" x="1850.0" y="428.6"/>
<use href="#pg" x="1831.1" y="426.5"/>
<use href="#pg" x="1724.5" y="459.2"/>
<use href="#pg" x="1634.3" y="492.4"/>
<use href="#pg" x="1743.3" y="444.0"/>
<use href="#pg" x="1605.7" y="524.1"/>
<use href="#pg" x="1725.9" y="441.9"/>
<use href="#pg" x="1688.1" y="465.7"/>
<use href="#pg" x="1676.8" y="474.1"/>
<use href="#pg" x="1740.3" y="437.0"/>
<use href="#pg" x="1790.4" y="443.4"/>
<use href="#pg" x="1859.1" y="427.6"/>
<use href="#pg" x="1613.5" y="502.4"/>
<use href="#pg" x="1629.7" y="502.2"/>
<use href="#pg" x="1787.4" y="450.3"/>
<use href="#pg" x="1741.1" y="452.2"/>
<use href="#pg" x="1745.5" y="436.5"/>
<use href="#pg" x="1662.2" y="476.1"/>
<use href="#pg" x="1764.6" y="433.7"/>
<use href="#pg" x="1635.5" y="493.0"/>
<use href="#pg" x="1634.6" y="494.2"/>
<use href="#pg" x="1692.4" y="452.3"/>
<use href="#pg" x="1868.2" y="424.7"/>
<use href="#pg" x="1856.7" y="432.6"/>
<use href="#pg" x="1593.1" y="523.3"/>
<use href="#pg" x="1711.0" y="447.7"/>
<use href="#pg" x="1886.9" y="416.9"/>
<use href="#pg" x="1756.6" y="452.8"/>
<use href="#pg" x="1668.3" y="476.2"/>
<use href="#pg" x="1584.5" y="524.4"/>
<use href="#pg" x="1824.2" y="440.4"/>
<use href="#pg" x="1717.5" y="447.5"/>
<use href="#pg" x="1668.6" y="472.1"/>
<use href="#pr" x="1889.2" y="422.9"/>
<use href="#pr" x="1835.6" y="440.2"/>
<use href="#pr" x="1854.8" y="430.5"/>
<use href="#pr" x="1854.5" y="427.6"/>
<use href="#pr" x="1850.7" y="423.5"/>
<use href="#pr" x="1890.7" y="417.6"/>
<use href="#pr" x="1871.9" y="421.5"/>
<use href="#pr" x="1849.0" y="424.9"/>
<use href="#pr" x="1826.5" y="429.6"/>
<use href="#pr" x="1839.7" y="435.2"/>
<use href="#pr" x="1847.4" y="426.9"/>
<use href="#pr" x="1821.2" y="448.2"/>
<use href="#pr" x="1845.6" y="425.6"/>
<use href="#pr" x="1893.9" y="420.3"/>
<use href="#pr" x="1908.3" y="418.2"/>
<use href="#pg" x="1708.3" y="462.2"/>
<use href="#pg" x="1739.9" y="453.2"/>
<use href="#pg" x="1741.2" y="446.6"/>
<use href="#pg" x="1750.2" y="436.0"/>
<use href="#pg" x="1804.4" y="434.3"/>
<use href="#pg" x="1787.0" y="445.5"/>
<use href="#pg" x="1728.7" y="446.7"/>
<use href="#pg" x="1749.1" y="455.4"/>
<use href="#pg" x="1791.6" y="427.4"/>
<use href="#pg" x="1717.9" y="447.5"/>
<use href="#pg" x="1721.6" y="458.1"/>
<use href="#pg" x="1732.0" y="453.5"/>
<use href="#pg" x="1797.2" y="431.9"/>
<use href="#pg" x="1807.8" y="428.7"/>
<use href="#pg" x="1801.3" y="445.7"/>
<use href="#pg" x="1726.2" y="452.9"/>
<use href="#pg" x="1737.8" y="445.1"/>
<use href="#pg" x="1737.4" y="448.0"/>
<use href="#pg" x="1785.1" y="438.4"/>
<use href="#pg" x="1801.6" y="442.3"/>
<use href="#pg" x="1788.4" y="447.1"/>
<use href="#pg" x="1725.1" y="446.5"/>
<use href="#pg" x="1788.5" y="441.0"/>
<use href="#pg" x="1712.8" y="456.0"/>
<use href="#pg" x="1790.3" y="455.8"/>
<use href="#pg" x="1807.3" y="425.3"/>
<use href="#pg" x="1809.2" y="445.4"/>
<use href="#pg" x="1600.2" y="487.5"/>
<use href="#pg" x="1605.3" y="483.7"/>
<use href="#pg" x="1608.0" y="481.7"/>
<use href="#pg" x="1612.1" y="478.9"/>
<use href="#pg" x="1614.4" y="476.4"/>
<use href="#pg" x="1618.7" y="473.0"/>
<use href="#pg" x="1622.5" y="471.0"/>
<use href="#pg" x="1626.2" y="467.2"/>
<use href="#pg" x="1629.6" y="464.3"/>
<use href="#pg" x="1635.4" y="461.8"/>
<use href="#pg" x="1639.3" y="460.1"/>
<use href="#pg" x="1641.7" y="457.9"/>
<use href="#pg" x="1646.2" y="455.2"/>
<use href="#pg" x="1651.1" y="452.2"/>
<use href="#pg" x="1655.0" y="450.2"/>
<use href="#pg" x="1659.3" y="449.1"/>
<use href="#pg" x="1661.8" y="446.7"/>
<use href="#pg" x="1667.4" y="444.4"/>
<use href="#pg" x="1671.9" y="443.5"/>
<use href="#pg" x="1675.0" y="440.9"/>
<use href="#pg" x="1679.3" y="438.7"/>
<use href="#pg" x="1682.9" y="437.1"/>
<use href="#pg" x="1688.8" y="435.9"/>
<use href="#pg" x="1691.8" y="433.2"/>
<use href="#pg" x="1697.0" y="433.1"/>
<use href="#pg" x="1701.3" y="431.4"/>
<use href="#pg" x="1705.4" y="429.9"/>
<use href="#pg" x="1709.9" y="427.4"/>
<use href="#pg" x="1714.4" y="426.9"/>
<use href="#pg" x="1719.1" y="425.4"/>
<use href="#pg" x="1721.6" y="423.9"/>
<use href="#pg" x="1727.4" y="422.5"/>
<use href="#pg" x="1731.7" y="422.0"/>
<use href="#pg" x="1736.2" y="420.7"/>
<use href="#pg" x="1740.0" y="419.8"/>
<use href="#pg" x="1745.1" y="419.0"/>
<use href="#pg" x="1749.2" y="417.0"/>
<use href="#pg" x="1754.3" y="416.9"/>
<use href="#pg" x="1758.5" y="415.5"/>
<use href="#pg" x="1761.9" y="414.6"/>
<use href="#pg" x="1767.4" y="413.0"/>
<use href="#pg" x="1772.1" y="412.6"/>
<use href="#pg" x="1775.1" y="410.8"/>
<use href="#pg" x="1780.8" y="410.1"/>
<use href="#pg" x="1785.3" y="409.0"/>
<use href="#pg" x="1788.9" y="408.3"/>
<use href="#pg" x="1793.6" y="407.9"/>
<use href="#pg" x="1797.5" y="407.8"/>
<use href="#pg" x="1803.2" y="407.4"/>
<use href="#pg" x="1808.3" y="405.5"/>
<use href="#pg" x="1811.5" y="405.8"/>
<use href="#pg" x="1817.1" y="405.1"/>
<use href="#pg" x="1821.2" y="404.0"/>
<use href="#pg" x="1825.2" y="404.4"/>
<use href="#pg" x="1830.6" y="403.6"/>
<use href="#pg" x="1834.8" y="403.0"/>
<use href="#pg" x="1839.2" y="402.9"/>
<use href="#pg" x="1844.5" y="402.5"/>
<use href="#pg" x="1848.8" y="400.9"/>
<use href="#pg" x="1852.7" y="401.7"/>
<use href="#pg" x="1857.3" y="401.9"/>
<use href="#pg" x="1861.4" y="400.1"/>
<use href="#pg" x="1867.0" y="400.1"/>
<use href="#pg" x="1871.4" y="400.1"/>
<use href="#pg" x="1876.1" y="399.6"/>
<use href="#pg" x="1879.3" y="400.2"/>
<use href="#pg" x="1883.7" y="398.9"/>
<use href="#pg" x="1888.9" y="398.5"/>
<use href="#pg" x="1893.7" y="399.0"/>
<use href="#pg" x="1547.2" y="575.9"/>
<use href="#pg" x="1550.1" y="572.2"/>
<use href="#pg" x="1551.3" y="570.0"/>
<use href="#pg" x="1554.7" y="565.4"/>
<use href="#pg" x="1557.2" y="562.4"/>
<use href="#pg" x="1560.1" y="557.9"/>
<use href="#pg" x="1561.8" y="554.4"/>
<use href="#pg" x="1564.7" y="551.0"/>
<use href="#pg" x="1567.6" y="546.9"/>
<use href="#pg" x="1570.0" y="545.3"/>
<use href="#pg" x="1573.0" y="540.1"/>
<use href="#pg" x="1575.5" y="537.8"/>
<use href="#pg" x="1578.8" y="534.3"/>
<use href="#pg" x="1581.1" y="530.9"/>
<use href="#pg" x="1583.7" y="527.5"/>
<use href="#pg" x="1586.4" y="525.4"/>
<use href="#pg" x="1590.1" y="521.1"/>
<use href="#pg" x="1594.1" y="517.7"/>
<use href="#pg" x="1596.5" y="515.4"/>
<use href="#pg" x="1598.8" y="512.5"/>
<use href="#pg" x="1601.8" y="508.8"/>
<use href="#pg" x="1606.5" y="506.8"/>
<use href="#pg" x="1609.6" y="504.5"/>
<use href="#pg" x="1612.8" y="499.9"/>
<use href="#pg" x="1615.2" y="498.3"/>
<use href="#pg" x="1619.6" y="494.6"/>
<use href="#pg" x="1623.4" y="491.9"/>
<use href="#pg" x="1625.8" y="489.3"/>
<use href="#pg" x="1628.6" y="486.7"/>
<use href="#pg" x="1632.2" y="484.1"/>
<use href="#pg" x="1637.1" y="483.2"/>
<use href="#pg" x="1640.1" y="479.7"/>
<use href="#pg" x="1643.9" y="478.6"/>
<use href="#pg" x="1646.7" y="475.9"/>
<use href="#pg" x="1651.6" y="473.3"/>
<use href="#pg" x="1655.2" y="471.3"/>
<use href="#pg" x="1659.0" y="468.5"/>
<use href="#pg" x="1662.7" y="466.2"/>
<use href="#pg" x="1666.3" y="465.4"/>
<use href="#pg" x="1670.9" y="463.3"/>
<use href="#pg" x="1674.7" y="460.2"/>
<use href="#pg" x="1678.5" y="458.7"/>
<use href="#pg" x="1682.3" y="457.1"/>
<use href="#pg" x="1685.4" y="456.2"/>
<use href="#pg" x="1689.6" y="454.9"/>
<use href="#pg" x="1693.8" y="451.6"/>
<use href="#pg" x="1698.8" y="451.5"/>
<use href="#pg" x="1702.8" y="449.0"/>
<use href="#pg" x="1706.4" y="448.0"/>
<use href="#pg" x="1710.6" y="445.7"/>
<use href="#pg" x="1715.3" y="445.6"/>
<use href="#pg" x="1719.9" y="443.7"/>
<use href="#pg" x="1723.5" y="442.9"/>
<use href="#pg" x="1726.8" y="440.2"/>
<use href="#pg" x="1730.9" y="440.7"/>
<use href="#pg" x="1736.6" y="437.8"/>
<use href="#pg" x="1741.1" y="437.9"/>
<use href="#pg" x="1744.5" y="435.8"/>
<use href="#pg" x="1748.2" y="435.3"/>
<use href="#pg" x="1754.0" y="433.8"/>
<use href="#pg" x="1757.1" y="432.9"/>
<use href="#pg" x="1761.3" y="432.6"/>
<use href="#pg" x="1767.0" y="431.5"/>
<use href="#pg" x="1770.9" y="431.2"/>
<use href="#pg" x="1775.7" y="429.3"/>
<use href="#pg" x="1778.8" y="429.6"/>
<use href="#pg" x="1782.9" y="427.8"/>
<use href="#pg" x="1787.4" y="426.9"/>
<use href="#pg" x="1793.3" y="426.7"/>
<use href="#pg" x="1796.6" y="425.9"/>
<use href="#pg" x="1801.5" y="425.0"/>
<use href="#pg" x="1805.8" y="425.9"/>
<use href="#pg" x="1809.8" y="425.3"/>
<use href="#pr" x="1811.7" y="425.2"/>
<use href="#pr" x="1816.4" y="425.5"/>
<use href="#pr" x="1822.0" y="424.1"/>
<use href="#pr" x="1823.8" y="422.9"/>
<use href="#pg" x="1828.1" y="422.1"/>
<use href="#pr" x="1834.9" y="421.8"/>
<use href="#pr" x="1839.7" y="420.5"/>
<use href="#pg" x="1842.5" y="421.1"/>
<use href="#pr" x="1848.1" y="419.3"/>
<use href="#pr" x="1852.0" y="421.2"/>
<use href="#pr" x="1855.9" y="419.3"/>
<use href="#pr" x="1860.6" y="418.2"/>
<use href="#pr" x="1865.6" y="420.1"/>
<use href="#pg" x="1868.3" y="418.0"/>
<use href="#pr" x="1874.9" y="417.7"/>
<use href="#pr" x="1878.3" y="418.5"/>
<use href="#pg" x="1883.3" y="416.9"/>
<use href="#pr" x="1885.9" y="416.4"/>
<use href="#pr" x="1892.9" y="415.7"/>
<use href="#pr" x="1897.0" y="416.9"/>
<use href="#pg" x="1902.0" y="415.3"/>
<use href="#pr" x="1906.1" y="416.6"/>
<use href="#pg" x="1908.3" y="415.7"/>
<use href="#pr" x="1914.3" y="415.1"/>
<use href="#pr" x="1917.9" y="416.0"/>
<use href="#pr" x="1923.2" y="415.9"/>
<use href="#pr" x="1926.2" y="413.9"/>
<use href="#pg" x="1868.4" y="217.3"/>
<use href="#pg" x="1844.6" y="232.2"/>
<use href="#pg" x="1852.9" y="234.6"/>
<use href="#pr" x="1883.8" y="250.8"/>
<use href="#pg" x="1900.0" y="260.5"/>
<use href="#pg" x="1857.3" y="273.1"/>
<use href="#pr" x="1795.1" y="287.2"/>
<use href="#pr" x="1814.2" y="305.4"/>
<use href="#pr" x="1915.2" y="310.7"/>
<use href="#pg" x="1954.6" y="317.3"/>
<use href="#pr" x="1774.4" y="318.0"/>
<use href="#pr" x="1780.3" y="333.9"/>
<use href="#pg" x="1763.9" y="324.9"/>
<use href="#pg" x="1765.0" y="336.3"/>
<use href="#pr" x="1711.8" y="336.7"/>
<use href="#pr" x="1723.8" y="341.5"/>
<use href="#pr" x="1713.8" y="349.8"/>
<use href="#pr" x="1724.9" y="355.4"/>
<use href="#pr" x="1757.8" y="347.7"/>
<use href="#pg" x="1742.2" y="345.4"/>
<use href="#pr" x="1822.5" y="352.6"/>
<use href="#pr" x="1836.7" y="353.3"/>
<use href="#pr" x="1876.4" y="353.3"/>
<use href="#pr" x="1879.9" y="364.3"/>
<use href="#pr" x="1873.0" y="367.8"/>
<use href="#pr" x="1887.5" y="375.4"/>
<use href="#pr" x="1890.3" y="387.2"/>
<use href="#pr" x="1875.5" y="389.3"/>
<use href="#pg" x="1905.1" y="387.2"/>
<use href="#pg" x="1936.6" y="375.4"/>
<use href="#pr" x="1942.9" y="395.5"/>
<use href="#pg" x="1954.6" y="401.0"/>
<use href="#pg" x="1888.2" y="403.1"/>
<use href="#pr" x="1807.2" y="358.8"/>
<use href="#pr" x="1817.6" y="372.6"/>
<use href="#pr" x="1798.2" y="376.1"/>
<use href="#pr" x="1799.6" y="383.0"/>
<use href="#pr" x="1809.3" y="378.9"/>
<use href="#pg" x="1810.0" y="366.4"/>
<use href="#pr" x="1833.5" y="380.3"/>
<use href="#pr" x="1837.0" y="385.8"/>
<use href="#pr" x="1846.7" y="388.6"/>
<use href="#pr" x="1720.8" y="366.4"/>
<use href="#pr" x="1742.9" y="360.2"/>
<use href="#pr" x="1755.4" y="362.3"/>
<use href="#pr" x="1763.7" y="360.2"/>
<use href="#pr" x="1772.0" y="363.7"/>
<use href="#pr" x="1780.3" y="367.8"/>
<use href="#pg" x="1704.8" y="363.7"/>
<use href="#pg" x="1727.7" y="367.1"/>
<use href="#pg" x="1749.8" y="369.2"/>
<use href="#pg" x="1766.4" y="374.7"/>
<use href="#pg" x="1718.0" y="380.3"/>
<use href="#pg" x="1726.3" y="377.5"/>
<use href="#pr" x="1789.9" y="391.3"/>
<use href="#pg" x="1744.3" y="387.2"/>
<use href="#pr" x="1737.4" y="396.9"/>
<use href="#pg" x="1755.4" y="394.1"/>
<use href="#pg" x="1706.9" y="396.9"/>
<use href="#pg" x="1720.8" y="399.6"/>
<use href="#pg" x="1814.9" y="391.3"/>
<use href="#pg" x="1823.2" y="388.6"/>
<use href="#pr" x="1785.8" y="410.7"/>
<use href="#pr" x="1760.9" y="407.9"/>
<use href="#pr" x="1719.4" y="424.9"/>
<use href="#pg" x="1706.9" y="408.3"/>
<use href="#pg" x="1716.6" y="413.8"/>
<use href="#pg" x="1730.4" y="408.3"/>
<use href="#pr" x="1913.1" y="432.5"/>
<use href="#pr" x="1904.8" y="442.9"/>
<use href="#pr" x="1893.7" y="445.7"/>
<use href="#pr" x="1856.4" y="456.7"/>
<use href="#pr" x="1866.1" y="451.2"/>
<use href="#pr" x="1878.5" y="451.2"/>
<use href="#pr" x="1853.6" y="440.1"/>
<use href="#pr" x="1879.9" y="438.7"/>
<use href="#pr" x="1893.7" y="434.6"/>
<use href="#pr" x="1866.1" y="427.7"/>
<use href="#pr" x="1879.9" y="424.9"/>
<use href="#pr" x="1902.0" y="430.4"/>
<use href="#pr" x="1885.4" y="431.8"/>
<use href="#pg" x="1857.7" y="447.0"/>
<use href="#pg" x="1877.1" y="447.7"/>
<use href="#pg" x="1907.6" y="423.5"/>
<use href="#pg" x="1921.4" y="419.4"/>
<use href="#pg" x="1935.2" y="416.6"/>
<use href="#pg" x="1960.8" y="413.8"/>
<use href="#pg" x="1857.7" y="468.5"/>
<use href="#pr" x="1766.4" y="469.2"/>
<use href="#pr" x="1842.5" y="448.4"/>
<use href="#pr" x="1778.9" y="479.6"/>
<use href="#pr" x="1789.9" y="486.5"/>
<use href="#pr" x="1803.1" y="491.3"/>
<use href="#pr" x="1817.6" y="487.2"/>
<use href="#pr" x="1814.9" y="472.0"/>
<use href="#pr" x="1765.0" y="489.9"/>
<use href="#pr" x="1748.4" y="494.1"/>
<use href="#pr" x="1708.3" y="489.9"/>
<use href="#pr" x="1708.3" y="503.8"/>
<use href="#pr" x="1727.7" y="466.4"/>
<use href="#pg" x="1788.6" y="474.7"/>
<use href="#pg" x="1794.1" y="467.8"/>
<use href="#pg" x="1807.9" y="463.7"/>
<use href="#pg" x="1776.1" y="465.0"/>
<use href="#pg" x="1758.1" y="465.0"/>
<use href="#pg" x="1824.5" y="462.3"/>
<use href="#pg" x="1839.8" y="456.7"/>
<use href="#pg" x="1831.5" y="452.6"/>
<use href="#pg" x="1785.8" y="455.4"/>
<use href="#pg" x="1817.6" y="452.6"/>
<use href="#pg" x="1755.4" y="441.5"/>
<use href="#pg" x="1719.4" y="480.3"/>
<use href="#pg" x="1733.2" y="477.5"/>
<use href="#pg" x="1747.0" y="483.0"/>
<use href="#pg" x="1758.1" y="478.9"/>
<use href="#pg" x="1734.6" y="492.7"/>
<use href="#pg" x="1724.9" y="501.0"/>
<use href="#pg" x="1781.0" y="498.9"/>
<use href="#pg" x="1812.1" y="496.9"/>
<use href="#pg" x="1810.0" y="483.0"/>
<use href="#pr" x="1686.1" y="378.9"/>
<use href="#pg" x="1678.4" y="387.2"/>
<use href="#pg" x="1688.8" y="406.5"/>
<use href="#pg" x="1676.4" y="403.8"/>
<use href="#pg" x="1652.8" y="413.5"/>
<use href="#pg" x="1596.8" y="540.2"/>
<use href="#pg" x="1637.6" y="534.0"/>
<use href="#pg" x="1644.5" y="532.6"/>
<use href="#pg" x="1637.6" y="545.0"/>
<use href="#pg" x="1666.7" y="498.0"/>
<use href="#pg" x="1665.3" y="509.1"/>
<use href="#pg" x="1691.6" y="498.0"/>
<use href="#pg" x="1633.5" y="437.4"/>
<path d="M1535.6,576.8 L1538.4,572.48 L1541.19,568.26 L1543.99,564.15 L1546.79,560.15 L1549.58,556.24 L1552.38,552.43 L1555.18,548.72 L1557.97,545.11 L1560.77,541.58 L1563.57,538.14 L1566.36,534.79 L1569.16,531.53 L1571.96,528.34 L1574.75,525.24 L1577.55,522.21 L1580.35,519.26 L1583.15,516.39 L1585.94,513.59 L1588.74,510.85 L1591.54,508.19 L1594.33,505.59 L1597.13,503.06 L1599.93,500.6 L1602.72,498.19 L1605.52,495.85 L1608.32,493.56 L1611.11,491.33 L1613.91,489.16 L1616.71,487.04 L1619.5,484.98 L1622.3,482.97 L1625.1,481.01 L1627.89,479.1 L1630.69,477.23 L1633.49,475.41 L1636.28,473.64 L1639.08,471.92 L1641.88,470.23 L1644.67,468.59 L1647.47,466.99 L1650.27,465.44 L1653.06,463.92 L1655.86,462.44 L1658.66,460.99 L1661.45,459.58 L1664.25,458.21 L1667.05,456.87 L1669.84,455.57 L1672.64,454.3 L1675.44,453.06 L1678.24,451.85 L1681.03,450.67 L1683.83,449.53 L1686.63,448.41 L1689.42,447.32 L1692.22,446.25 L1695.02,445.22 L1697.81,444.21 L1700.61,443.22 L1703.41,442.26 L1706.2,441.32 L1709.0,440.41 L1711.8,439.52 L1714.59,438.66 L1717.39,437.81 L1720.19,436.99 L1722.98,436.18 L1725.78,435.4 L1728.58,434.64 L1731.37,433.89 L1734.17,433.17 L1736.97,432.46 L1739.76,431.77 L1742.56,431.1 L1745.36,430.44 L1748.15,429.81 L1750.95,429.18 L1753.75,428.58 L1756.54,427.99 L1759.34,427.41 L1762.14,426.85 L1764.93,426.3 L1767.73,425.77 L1770.53,425.24 L1773.33,424.74 L1776.12,424.24 L1778.92,423.76 L1781.72,423.29 L1784.51,422.83 L1787.31,422.39 L1790.11,421.95 L1792.9,421.53 L1795.7,421.11 L1798.5,420.71 L1801.29,420.31 L1804.09,419.93 L1806.89,419.56 L1809.68,419.19 L1812.48,418.84 L1815.28,418.49 L1818.07,418.15 L1820.87,417.83 L1823.67,417.51 L1826.46,417.19 L1829.26,416.89 L1832.06,416.59 L1834.85,416.3 L1837.65,416.02 L1840.45,415.74 L1843.24,415.48 L1846.04,415.21 L1848.84,414.96 L1851.63,414.71 L1854.43,414.47 L1857.23,414.23 L1860.03,414.0 L1862.82,413.78 L1865.62,413.56 L1868.42,413.35 L1871.21,413.14 L1874.01,412.94 L1876.81,412.74 L1879.6,412.55 L1882.4,412.36 L1885.2,412.18 L1887.99,412.0 L1890.79,411.82 L1893.59,411.65 L1896.38,411.49 L1899.18,411.33 L1901.98,411.17 L1904.77,411.02 L1907.57,410.87 L1910.37,410.72 L1913.16,410.58 L1915.96,410.44 L1918.76,410.31 L1921.55,410.18 L1924.35,410.05 L1927.15,409.92 L1929.94,409.8 L1932.74,409.68 L1935.54,409.57 L1938.33,409.46 L1941.13,409.35 L1943.93,409.24 L1946.72,409.13 L1949.52,409.03 L1952.32,408.93 L1955.12,408.84 L1957.91,408.74 L1960.71,408.65 L1963.51,408.56 L1966.3,408.47 L1969.1,408.39 L1971.9,408.31 L1974.69,408.22 L1977.49,408.15 L1980.29,408.07 L1983.08,407.99" fill="none" stroke="#fff" stroke-width="12.5" stroke-linecap="butt"/>
<path d="M1535.6,576.8 L1538.4,572.48 L1541.19,568.26 L1543.99,564.15 L1546.79,560.15 L1549.58,556.24 L1552.38,552.43 L1555.18,548.72 L1557.97,545.11 L1560.77,541.58 L1563.57,538.14 L1566.36,534.79 L1569.16,531.53 L1571.96,528.34 L1574.75,525.24 L1577.55,522.21 L1580.35,519.26 L1583.15,516.39 L1585.94,513.59 L1588.74,510.85 L1591.54,508.19 L1594.33,505.59 L1597.13,503.06 L1599.93,500.6 L1602.72,498.19 L1605.52,495.85 L1608.32,493.56 L1611.11,491.33 L1613.91,489.16 L1616.71,487.04 L1619.5,484.98 L1622.3,482.97 L1625.1,481.01 L1627.89,479.1 L1630.69,477.23 L1633.49,475.41 L1636.28,473.64 L1639.08,471.92 L1641.88,470.23 L1644.67,468.59 L1647.47,466.99 L1650.27,465.44 L1653.06,463.92 L1655.86,462.44 L1658.66,460.99 L1661.45,459.58 L1664.25,458.21 L1667.05,456.87 L1669.84,455.57 L1672.64,454.3 L1675.44,453.06 L1678.24,451.85 L1681.03,450.67 L1683.83,449.53 L1686.63,448.41 L1689.42,447.32 L1692.22,446.25 L1695.02,445.22 L1697.81,444.21 L1700.61,443.22 L1703.41,442.26 L1706.2,441.32 L1709.0,440.41 L1711.8,439.52 L1714.59,438.66 L1717.39,437.81 L1720.19,436.99 L1722.98,436.18 L1725.78,435.4 L1728.58,434.64 L1731.37,433.89 L1734.17,433.17 L1736.97,432.46 L1739.76,431.77 L1742.56,431.1 L1745.36,430.44 L1748.15,429.81 L1750.95,429.18 L1753.75,428.58 L1756.54,427.99 L1759.34,427.41 L1762.14,426.85 L1764.93,426.3 L1767.73,425.77 L1770.53,425.24 L1773.33,424.74 L1776.12,424.24 L1778.92,423.76 L1781.72,423.29 L1784.51,422.83 L1787.31,422.39 L1790.11,421.95 L1792.9,421.53 L1795.7,421.11 L1798.5,420.71 L1801.29,420.31 L1804.09,419.93 L1806.89,419.56 L1809.68,419.19 L1812.48,418.84 L1815.28,418.49 L1818.07,418.15 L1820.87,417.83 L1823.67,417.51 L1826.46,417.19 L1829.26,416.89 L1832.06,416.59 L1834.85,416.3 L1837.65,416.02 L1840.45,415.74 L1843.24,415.48 L1846.04,415.21 L1848.84,414.96 L1851.63,414.71 L1854.43,414.47 L1857.23,414.23 L1860.03,414.0 L1862.82,413.78 L1865.62,413.56 L1868.42,413.35 L1871.21,413.14 L1874.01,412.94 L1876.81,412.74 L1879.6,412.55 L1882.4,412.36 L1885.2,412.18 L1887.99,412.0 L1890.79,411.82 L1893.59,411.65 L1896.38,411.49 L1899.18,411.33 L1901.98,411.17 L1904.77,411.02 L1907.57,410.87 L1910.37,410.72 L1913.16,410.58 L1915.96,410.44 L1918.76,410.31 L1921.55,410.18 L1924.35,410.05 L1927.15,409.92 L1929.94,409.8 L1932.74,409.68 L1935.54,409.57 L1938.33,409.46 L1941.13,409.35 L1943.93,409.24 L1946.72,409.13 L1949.52,409.03 L1952.32,408.93 L1955.12,408.84 L1957.91,408.74 L1960.71,408.65 L1963.51,408.56 L1966.3,408.47 L1969.1,408.39 L1971.9,408.31 L1974.69,408.22 L1977.49,408.15 L1980.29,408.07 L1983.08,407.99" fill="none" stroke="#c63c47" stroke-width="3.8" stroke-dasharray="14.06 6.08" stroke-dashoffset="15.16"/>
<path d="M1535.6,576.8 L1538.51,572.23 L1541.42,567.77 L1544.33,563.43 L1547.24,559.2 L1550.15,555.08 L1553.06,551.07 L1555.97,547.16 L1558.88,543.35 L1561.79,539.64 L1564.7,536.03 L1567.61,532.51 L1570.52,529.08 L1573.43,525.74 L1576.34,522.49 L1579.25,519.32 L1582.16,516.23 L1585.08,513.22 L1587.99,510.29 L1590.9,507.43 L1593.81,504.65 L1596.72,501.94 L1599.63,499.3 L1602.54,496.73 L1605.45,494.23 L1608.36,491.78 L1611.27,489.41 L1614.18,487.09 L1617.09,484.84 L1620.0,482.64 L1622.91,480.5 L1625.82,478.41 L1628.73,476.38 L1631.64,474.4 L1634.55,472.47 L1637.46,470.59 L1640.37,468.77 L1643.28,466.98 L1646.19,465.25 L1649.1,463.55 L1652.01,461.91 L1654.92,460.3 L1657.83,458.74 L1660.74,457.21 L1663.65,455.73 L1666.56,454.29 L1669.47,452.88 L1672.38,451.5 L1675.29,450.17 L1678.21,448.87 L1681.12,447.6 L1684.03,446.36 L1686.94,445.16 L1689.85,443.99 L1692.76,442.84 L1695.67,441.73 L1698.58,440.65 L1701.49,439.59 L1704.4,438.56 L1707.31,437.56 L1710.22,436.58 L1713.13,435.63 L1716.04,434.71 L1718.95,433.8 L1721.86,432.93 L1724.77,432.07 L1727.68,431.23 L1730.59,430.42 L1733.5,429.63 L1736.41,428.86 L1739.32,428.11 L1742.23,427.38 L1745.14,426.66 L1748.05,425.97 L1750.96,425.29 L1753.87,424.63 L1756.78,423.99 L1759.69,423.36 L1762.6,422.76 L1765.51,422.16 L1768.42,421.58 L1771.34,421.02 L1774.25,420.47 L1777.16,419.94 L1780.07,419.42 L1782.98,418.91 L1785.89,418.41 L1788.8,417.93 L1791.71,417.46 L1794.62,417.01 L1797.53,416.56 L1800.44,416.13 L1803.35,415.7 L1806.26,415.29 L1809.17,414.89 L1812.08,414.5 L1814.99,414.12 L1817.9,413.75 L1820.81,413.39 L1823.72,413.04 L1826.63,412.7 L1829.54,412.36 L1832.45,412.04 L1835.36,411.72 L1838.27,411.41 L1841.18,411.11 L1844.09,410.82 L1847.0,410.53 L1849.91,410.25 L1852.82,409.98 L1855.73,409.72 L1858.64,409.46 L1861.55,409.21 L1864.47,408.97 L1867.38,408.73 L1870.29,408.5 L1873.2,408.28 L1876.11,408.06 L1879.02,407.84 L1881.93,407.63 L1884.84,407.43 L1887.75,407.23 L1890.66,407.04 L1893.57,406.85 L1896.48,406.67 L1899.39,406.49 L1902.3,406.32 L1905.21,406.15 L1908.12,405.98 L1911.03,405.82 L1913.94,405.67 L1916.85,405.52 L1919.76,405.37 L1922.67,405.22 L1925.58,405.08 L1928.49,404.95 L1931.4,404.81 L1934.31,404.68 L1937.22,404.55 L1940.13,404.43 L1943.04,404.31 L1945.95,404.19 L1948.86,404.08 L1951.77,403.97 L1954.68,403.86 L1957.6,403.75 L1960.51,403.65 L1963.42,403.55 L1966.33,403.45 L1969.24,403.36 L1972.15,403.27 L1975.06,403.18 L1977.97,403.09 L1980.88,403.0 L1983.79,402.92 L1986.7,402.84 L1989.61,402.76 L1992.52,402.68 L1995.43,402.61 L1998.34,402.53 L2001.25,402.46" fill="none" stroke="#fff" stroke-width="10.2" stroke-linecap="butt"/>
<path d="M1535.6,576.8 L1538.51,572.23 L1541.42,567.77 L1544.33,563.43 L1547.24,559.2 L1550.15,555.08 L1553.06,551.07 L1555.97,547.16 L1558.88,543.35 L1561.79,539.64 L1564.7,536.03 L1567.61,532.51 L1570.52,529.08 L1573.43,525.74 L1576.34,522.49 L1579.25,519.32 L1582.16,516.23 L1585.08,513.22 L1587.99,510.29 L1590.9,507.43 L1593.81,504.65 L1596.72,501.94 L1599.63,499.3 L1602.54,496.73 L1605.45,494.23 L1608.36,491.78 L1611.27,489.41 L1614.18,487.09 L1617.09,484.84 L1620.0,482.64 L1622.91,480.5 L1625.82,478.41 L1628.73,476.38 L1631.64,474.4 L1634.55,472.47 L1637.46,470.59 L1640.37,468.77 L1643.28,466.98 L1646.19,465.25 L1649.1,463.55 L1652.01,461.91 L1654.92,460.3 L1657.83,458.74 L1660.74,457.21 L1663.65,455.73 L1666.56,454.29 L1669.47,452.88 L1672.38,451.5 L1675.29,450.17 L1678.21,448.87 L1681.12,447.6 L1684.03,446.36 L1686.94,445.16 L1689.85,443.99 L1692.76,442.84 L1695.67,441.73 L1698.58,440.65 L1701.49,439.59 L1704.4,438.56 L1707.31,437.56 L1710.22,436.58 L1713.13,435.63 L1716.04,434.71 L1718.95,433.8 L1721.86,432.93 L1724.77,432.07 L1727.68,431.23 L1730.59,430.42 L1733.5,429.63 L1736.41,428.86 L1739.32,428.11 L1742.23,427.38 L1745.14,426.66 L1748.05,425.97 L1750.96,425.29 L1753.87,424.63 L1756.78,423.99 L1759.69,423.36 L1762.6,422.76 L1765.51,422.16 L1768.42,421.58 L1771.34,421.02 L1774.25,420.47 L1777.16,419.94 L1780.07,419.42 L1782.98,418.91 L1785.89,418.41 L1788.8,417.93 L1791.71,417.46 L1794.62,417.01 L1797.53,416.56 L1800.44,416.13 L1803.35,415.7 L1806.26,415.29 L1809.17,414.89 L1812.08,414.5 L1814.99,414.12 L1817.9,413.75 L1820.81,413.39 L1823.72,413.04 L1826.63,412.7 L1829.54,412.36 L1832.45,412.04 L1835.36,411.72 L1838.27,411.41 L1841.18,411.11 L1844.09,410.82 L1847.0,410.53 L1849.91,410.25 L1852.82,409.98 L1855.73,409.72 L1858.64,409.46 L1861.55,409.21 L1864.47,408.97 L1867.38,408.73 L1870.29,408.5 L1873.2,408.28 L1876.11,408.06 L1879.02,407.84 L1881.93,407.63 L1884.84,407.43 L1887.75,407.23 L1890.66,407.04 L1893.57,406.85 L1896.48,406.67 L1899.39,406.49 L1902.3,406.32 L1905.21,406.15 L1908.12,405.98 L1911.03,405.82 L1913.94,405.67 L1916.85,405.52 L1919.76,405.37 L1922.67,405.22 L1925.58,405.08 L1928.49,404.95 L1931.4,404.81 L1934.31,404.68 L1937.22,404.55 L1940.13,404.43 L1943.04,404.31 L1945.95,404.19 L1948.86,404.08 L1951.77,403.97 L1954.68,403.86 L1957.6,403.75 L1960.51,403.65 L1963.42,403.55 L1966.33,403.45 L1969.24,403.36 L1972.15,403.27 L1975.06,403.18 L1977.97,403.09 L1980.88,403.0 L1983.79,402.92 L1986.7,402.84 L1989.61,402.76 L1992.52,402.68 L1995.43,402.61 L1998.34,402.53 L2001.25,402.46" fill="none" stroke="#646464" stroke-width="3.8" stroke-dasharray="14.06 6.08" stroke-dashoffset="14.76"/>
</g>
<rect x="1557.3" y="71.2" width="505.1" height="39.8" rx="5.5" ry="5.5" fill="#fff" fill-opacity="0.85" stroke="#c84b52" stroke-opacity="0.85" stroke-width="1.4"/>
<text class="b" x="1565.6" y="98.1" font-size="24.95" style="fill:#c84b52">AKT2 ETRmax @ sat. ≈ 161.5 ± 1.7</text>
<rect x="1557.3" y="124.3" width="468.7" height="39.7" rx="5.5" ry="5.5" fill="#fff" fill-opacity="0.85" stroke="#7a7a7a" stroke-opacity="0.85" stroke-width="1.4"/>
<text class="b" x="1565.6" y="151.2" font-size="24.95" style="fill:#7a7a7a">EV ETRmax @ sat. ≈ 166.5 ± 2.5</text>
<rect x="1535.6" y="45.2" width="597.6" height="531.6" fill="none" stroke="#000" stroke-width="4.75"/>
<line x1="1535.60" x2="1535.60" y1="576.8" y2="583.45" stroke="#000" stroke-width="1.5"/>
<text class="t" x="1535.60" y="611.4" text-anchor="middle">0</text>
<line x1="1655.12" x2="1655.12" y1="576.8" y2="583.45" stroke="#000" stroke-width="1.5"/>
<text class="t" x="1655.12" y="611.4" text-anchor="middle">500</text>
<line x1="1774.64" x2="1774.64" y1="576.8" y2="583.45" stroke="#000" stroke-width="1.5"/>
<text class="t" x="1774.64" y="611.4" text-anchor="middle">1000</text>
<line x1="1894.16" x2="1894.16" y1="576.8" y2="583.45" stroke="#000" stroke-width="1.5"/>
<text class="t" x="1894.16" y="611.4" text-anchor="middle">1500</text>
<line x1="2013.68" x2="2013.68" y1="576.8" y2="583.45" stroke="#000" stroke-width="1.5"/>
<text class="t" x="2013.68" y="611.4" text-anchor="middle">2000</text>
<line x1="2133.20" x2="2133.20" y1="576.8" y2="583.45" stroke="#000" stroke-width="1.5"/>
<text class="t" x="2133.20" y="611.4" text-anchor="middle">2500</text>
<line x1="1528.95" x2="1535.6" y1="576.80" y2="576.80" stroke="#000" stroke-width="1.5"/>
<text class="t" x="1521.7" y="586.9" text-anchor="end">0</text>
<line x1="1528.95" x2="1535.6" y1="470.48" y2="470.48" stroke="#000" stroke-width="1.5"/>
<text class="t" x="1521.7" y="480.6" text-anchor="end">100</text>
<line x1="1528.95" x2="1535.6" y1="364.16" y2="364.16" stroke="#000" stroke-width="1.5"/>
<text class="t" x="1521.7" y="374.3" text-anchor="end">200</text>
<line x1="1528.95" x2="1535.6" y1="257.84" y2="257.84" stroke="#000" stroke-width="1.5"/>
<text class="t" x="1521.7" y="267.9" text-anchor="end">300</text>
<line x1="1528.95" x2="1535.6" y1="151.52" y2="151.52" stroke="#000" stroke-width="1.5"/>
<text class="t" x="1521.7" y="161.6" text-anchor="end">400</text>
<line x1="1528.95" x2="1535.6" y1="45.20" y2="45.20" stroke="#000" stroke-width="1.5"/>
<text class="t" x="1521.7" y="55.3" text-anchor="end">500</text>
<text class="b" x="1834.4" y="33.1" font-size="42.3" text-anchor="middle">October 2024</text>
<text class="b" x="1834.4" y="648.3" font-size="30.4" text-anchor="middle">PAR</text>
<text class="b" x="2120.5" y="557.1" font-size="37.6" text-anchor="end">c)</text>
</g>
<g id="legend">
<rect x="830.7" y="757" width="84.2" height="47.4" fill="#808080"/>
<text class="l" x="946" y="797.4" font-size="45.5" stroke="#000" stroke-width="0.5">EV</text>
<rect x="1093" y="755.6" width="84.2" height="47.7" fill="#cb575d"/>
<text class="l" x="1213" y="800.2" font-size="46" font-style="italic" stroke="#000" stroke-width="0.6">AKT2<tspan font-size="31" dx="0.5" dy="8.4">var</tspan></text>
</g>
</svg></body></html>
